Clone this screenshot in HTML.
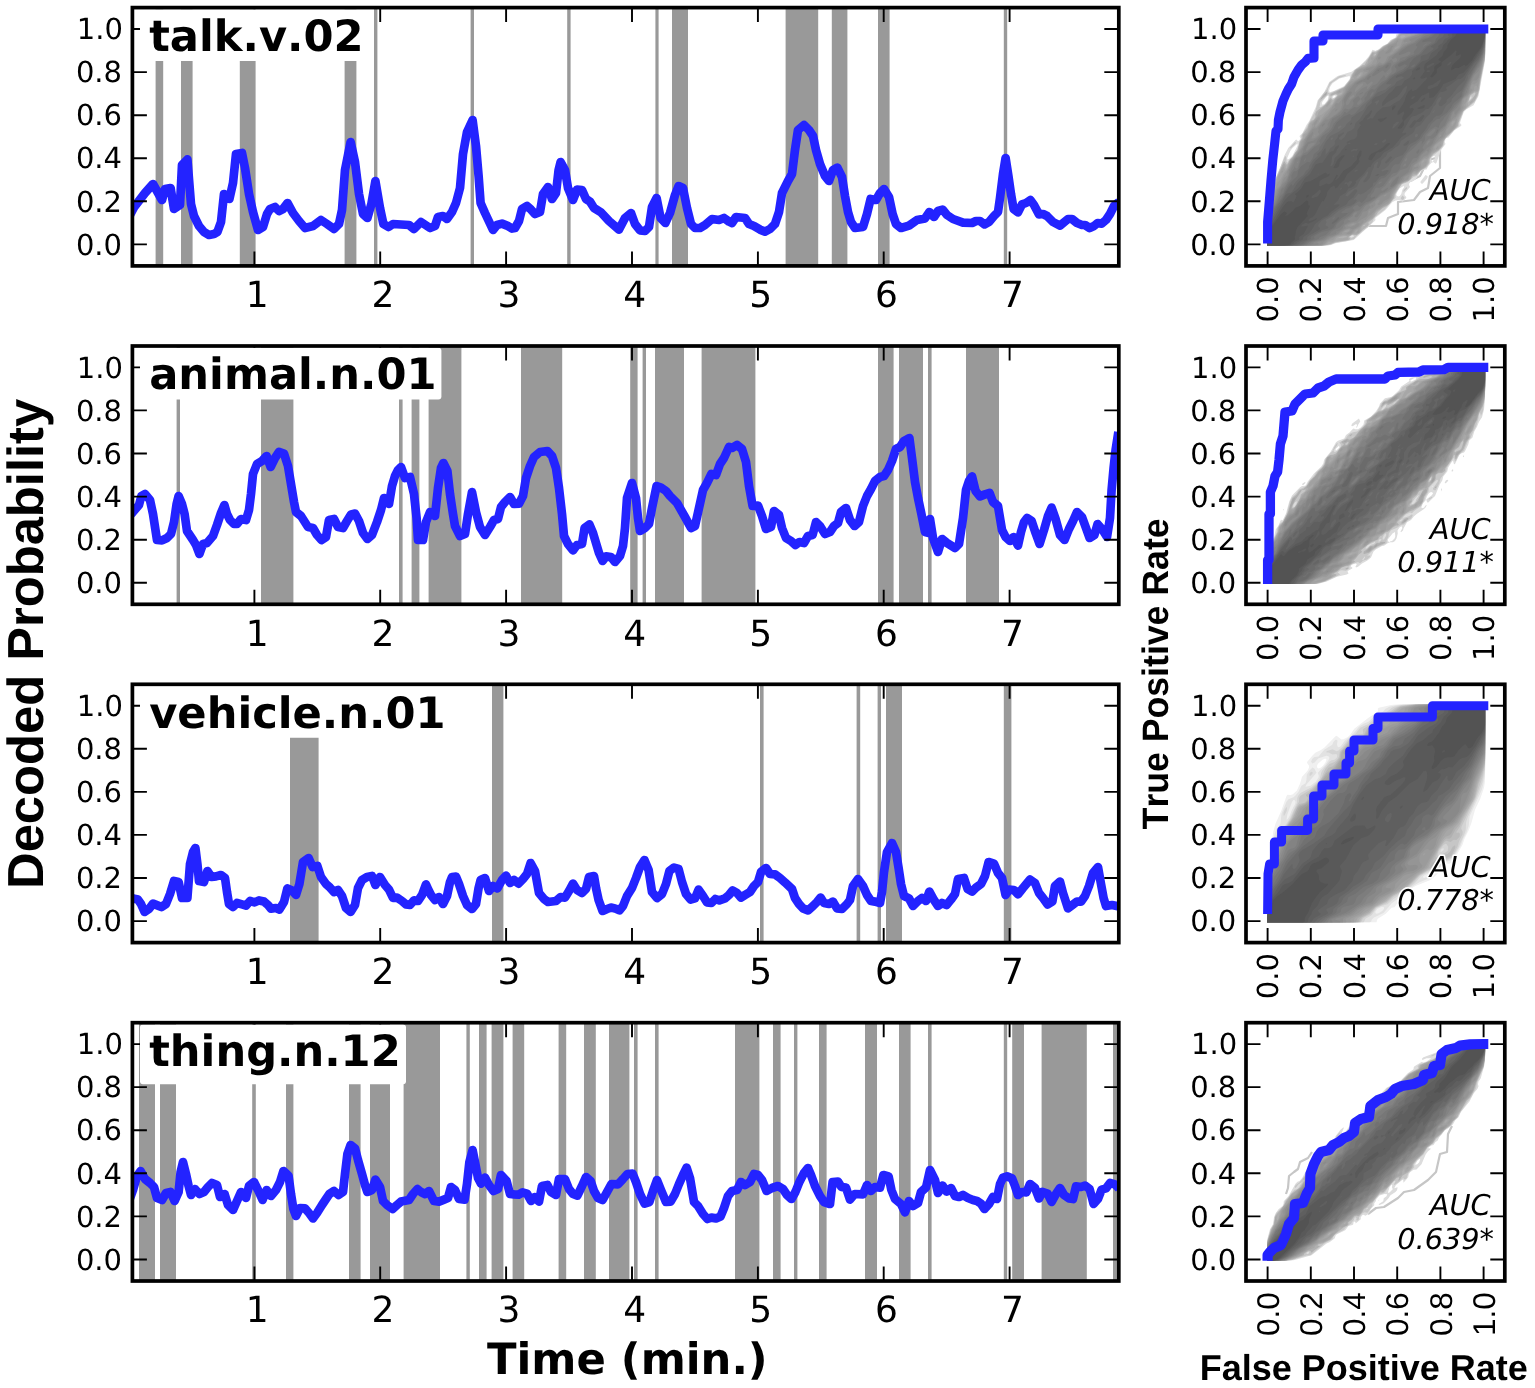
<!DOCTYPE html>
<html lang="en"><head><meta charset="utf-8"><title>Decoded probability and ROC curves</title>
<style>html,body{margin:0;padding:0;background:#fff}body{width:1535px;height:1388px;overflow:hidden}svg{display:block}text{font-kerning:none;font-variant-ligatures:none;text-rendering:geometricPrecision}.t{font-family:"DejaVu Sans","Liberation Sans",sans-serif;fill:#000}.h{font-family:"Liberation Sans","DejaVu Sans",sans-serif;fill:#000}.b{font-weight:bold}.i{font-style:oblique;paint-order:stroke;stroke:#fff;stroke-width:3.2px;stroke-linejoin:round}.sp{fill:none;stroke:#000;stroke-width:3.7;stroke-linejoin:miter}.tk{stroke:#000;stroke-width:1.9;fill:none}.bl{fill:none;stroke:#2323ff;stroke-linejoin:round;stroke-linecap:butt}</style></head><body>
<svg width="1535" height="1388" viewBox="0 0 1535 1388">
<rect width="1535" height="1388" fill="#fff"/>
<defs>
<clipPath id="cl1"><rect x="132.4" y="7.6" width="986.4" height="258.3"/></clipPath>
<clipPath id="cr1"><rect x="1246" y="7.6" width="258.8" height="258.3"/></clipPath>
<clipPath id="cb1"><rect x="1267.1" y="27.8" width="218" height="217.8"/></clipPath>
<clipPath id="cl2"><rect x="132.4" y="346" width="986.4" height="258.3"/></clipPath>
<clipPath id="cr2"><rect x="1246" y="346" width="258.8" height="258.3"/></clipPath>
<clipPath id="cb2"><rect x="1267.1" y="366.2" width="218" height="217.8"/></clipPath>
<clipPath id="cl3"><rect x="132.4" y="684.3" width="986.4" height="258.3"/></clipPath>
<clipPath id="cr3"><rect x="1246" y="684.3" width="258.8" height="258.3"/></clipPath>
<clipPath id="cb3"><rect x="1267.1" y="704.5" width="218" height="217.8"/></clipPath>
<clipPath id="cl4"><rect x="132.4" y="1022.7" width="986.4" height="258.3"/></clipPath>
<clipPath id="cr4"><rect x="1246" y="1022.7" width="258.8" height="258.3"/></clipPath>
<clipPath id="cb4"><rect x="1267.1" y="1042.9" width="218" height="217.8"/></clipPath>
</defs>
<g id="left1">
<g clip-path="url(#cl1)">
<path d="M155.6 7.6v258.3h7.6v-258.3zM181 7.6v258.3h11.6v-258.3zM239.8 7.6v258.3h15.8v-258.3zM344.6 7.6v258.3h11.8v-258.3zM374 7.6v258.3h3.4v-258.3zM470.6 7.6v258.3h3.4v-258.3zM567.2 7.6v258.3h3.4v-258.3zM655.4 7.6v258.3h3.2v-258.3zM672 7.6v258.3h16v-258.3zM785.6 7.6v258.3h32.6v-258.3zM831.8 7.6v258.3h15.6v-258.3zM878 7.6v258.3h11.6v-258.3zM1003.8 7.6v258.3h3.4v-258.3z" fill="#999999"/>
<path class="bl" stroke-width="8.7" d="M129,217 134.2,207 145,193 153,184 162,200 165,189 170.6,188 174,209 180,205 182,165 187.4,159.4 191,204 194,216 199,226 204,232 209,235 214,234 217.4,232 221,222 224,194 229.4,199 233,183 236,154 242,153 245,168 249,194 253,212 258,230 263,227 267,214 270,209 275,207 279,211 283,209 287.6,203 293,213 299,221 305,228 313,226 321,220 327,224 334,229 339,224 342,210 345,170 350.6,142 355,162 359,194 363,214 367.4,218 371.4,204 375.4,181 380,208 383.4,224 388.6,227 393,224 409,225 414,229 421,222 427,226 430,228 435,226 438,217 443,216 447,219 452,212 456,203 460,188 463,154 467,132 472.6,120 476,146 478.6,176 480.6,203 485,213 493,230 497,225 502,223.6 507,225.6 512,228.6 515,228 519,221 522,209 527,206 531,209.6 535,214 540,212 543,194 548,187 552,199 556,193 558.6,170 560.6,162 565,170 568,188 573,200 577,189.6 582,190 586,199 590,201.6 594,208 601,212.4 609,221 619,229.6 625,218 631,213 635,224 640,230.4 645,231 649,227 652,207 656.6,198 660.6,218 665.4,223 670,213 675,195 678.6,186 683,188 687,208 691,224 695,228 700,228 705,225 712,219 719,220 724,218 729,221.6 732,223 736,217 745,218 749,224 754,226 760,229.6 765,231.6 770,229 775,224 779,212 782,193 788,181 792,174 795,150 798,130 804,125 809,130 813,136 816,150 820,164 825,176 829,181 833,170 837.4,167.6 842,177 845,196 848,212 851,222 855,228 863,227 867,214 870.6,199 876,200 880,193 884,189 889,197 892.6,214 896,224 901,228 909,225.6 917,220 925,218.4 929.4,212 934,217 938,211 942.6,209.6 947,215 953,219 963,222.6 972,223 976,221 980,221 984.6,224.4 989,222 994,216 998,212 1000,198 1003,174 1005.6,158 1008.4,176 1011,194 1013.6,209 1018,212.4 1022,204.4 1026,203 1030.4,200 1034,205 1039,214.4 1043,214 1047,216 1053,222 1060,225.6 1068,219 1072,219 1077,223 1082,225 1085,225 1089.6,228 1094,226 1097.6,223 1101.6,223.6 1106,220 1110,214 1114,206 1119,202"/>
</g>
<path class="tk" d="M254.4 265.9v-14.5M254.4 7.6v14.5M380.2 265.9v-14.5M380.2 7.6v14.5M506.1 265.9v-14.5M506.1 7.6v14.5M632 265.9v-14.5M632 7.6v14.5M757.9 265.9v-14.5M757.9 7.6v14.5M883.7 265.9v-14.5M883.7 7.6v14.5M1009.6 265.9v-14.5M1009.6 7.6v14.5M132.4 244.4h14.5M1118.8 244.4h-14.5M132.4 201.3h14.5M1118.8 201.3h-14.5M132.4 158.2h14.5M1118.8 158.2h-14.5M132.4 115.2h14.5M1118.8 115.2h-14.5M132.4 72.1h14.5M1118.8 72.1h-14.5M132.4 29h14.5M1118.8 29h-14.5"/>
<rect x="140" y="9.3" width="226" height="51.7" rx="3" fill="#fff"/>
<text class="t b" x="149.2" y="51" font-size="43.2">talk.v.02</text>
<rect class="sp" x="132.4" y="7.6" width="986.4" height="258.3"/>
<text class="t" x="122" y="254.6" font-size="29" text-anchor="end">0.0</text>
<text class="t" x="122" y="211.5" font-size="29" text-anchor="end">0.2</text>
<text class="t" x="122" y="168.4" font-size="29" text-anchor="end">0.4</text>
<text class="t" x="122" y="125.4" font-size="29" text-anchor="end">0.6</text>
<text class="t" x="122" y="82.3" font-size="29" text-anchor="end">0.8</text>
<text class="t" x="122.9" y="39.2" font-size="29" text-anchor="end">1.0</text>
<text class="t" x="257.2" y="307.2" font-size="36" text-anchor="middle">1</text>
<text class="t" x="383" y="307.2" font-size="36" text-anchor="middle">2</text>
<text class="t" x="508.9" y="307.2" font-size="36" text-anchor="middle">3</text>
<text class="t" x="634.8" y="307.2" font-size="36" text-anchor="middle">4</text>
<text class="t" x="760.6" y="307.2" font-size="36" text-anchor="middle">5</text>
<text class="t" x="886.5" y="307.2" font-size="36" text-anchor="middle">6</text>
<text class="t" x="1012.4" y="307.2" font-size="36" text-anchor="middle">7</text>
</g>
<g id="right1">
<g clip-path="url(#cr1)">
<path d="M1356,232 1368,226 1386,226 1388,218 1398,214 1398,202 1414,200 1420,192 1428,188 1430,176 1440,168 1440,148 1434,143" fill="none" stroke="#c6c6c6" stroke-width="2.2" stroke-linejoin="round"/>
<path d="M1400,186 1420,176 1428,160 1436,158 1440,148" fill="none" stroke="#c6c6c6" stroke-width="2.2" stroke-linejoin="round"/>
<g clip-path="url(#cb1)"><g transform="translate(1246.0 7.60) scale(.25)" fill-rule="evenodd"><path fill="#dedede" d="M126 966l-44 1-8-5-6-12 18-173 15-39 9-36 26-60 18-51 15-29 29-32 4-2 4 5 4 1 8-8-4-12 12-12 16-32 11-16 26-56 7-26 27-34 20-40 33-24 56-17 32-23 24-23 14-17 14-25 12 4 12-5 16-14 20-10 12-14 20-10 4-14 44-14 20-11 84-8 196-7 16 4 6 8 2 8-8 96-32 172-20 37-28 16-11 11-14 40-1 4 6 8-2 4-26 17-24 29-8 2-4 5-3 11 3 8-18 24-18 51-4 4-8-7-8 3-12 13-8 14-12 1-14 9-14 25-7 7-13 8-8 0-2 12 4 8-21 24-1 8 7 8 0 4-15 15-12-7-16 2-12 6-28 32-41 32 1 8-3 4-84 76-73 13-20 8-36 7zM351 334l42-20 22-28 1-8-2-4-40 10-28 19-10 15-4 16 2 3 4 1zM314 386l13-16 3-16-4-1-6 5-15 20-1 8 2 3zM356 358l3-4-5-2-8 6 4 4zM172 606l13-12 21-41 0-9-20 18-9 12-12 28 1 6zM748 614l8-12-2-9-8 3-6 10 6 12zM706 705l-4 0-5-7 21-28 8 4 1 4-4 8zM615 754l6-8 4-16 8-12-3-4-16 10-11 18-2 8 3 4 6 2zM427 914l-5 0 0 2z"/><path fill="#c6c6c6" d="M110 966l-28 0-11-8-3-12 10-96 10-68 30-96 36-87 4-5 3 4 1 20 4 3 6-11 14-13 17-27 8-20 1-12 9-12-1-12 23-36 34-64 13-44 34-44 10-25 39-27 29-5-6 5-26 9-24 16-7 7-11 20-1 8 3 8 4 1 56-24 24-29 4-8 2-12 14-20 24-16 20-19 14-17 14-23 12 0 16-8 15-13 17-8 16-16 17-8 11-17 36-12 22-11 78-8 200-7 12 2 7 5 5 12-9 96-21 104-6 42-8 29-12 22-43 35-19 48 1 12-19 15-20 22-16 13-6 10-1 16-17 22-32 26-5 8-1 16-14 19-24 13-16 20-12 4-24 21-21 7-18 24-8 16-1 16-8 6-37 42-35 27-7 9-5 12-19 20-44 36-10 12-28 8-47 7-20 8-40 9zM300 398l14-9 13-15 7-16-4-12-32 32-4 20zM355 362l8-8-1-5-12 1-8 8 4 7zM895 370l7-8 0-7-4 2-4 9zM178 564l-2-2 2-4 16-18 6-2-2 7zM630 738l0-8 12-12 3 4-2 4zM630 768l-4 2-6-4-1-4 7-10 8 8zM430 918l3-4-7-4-9 4-2 4 7 3z"/><path fill="#b0b0b0" d="M98 966l-12 0-8-3-8-9-1-8 9-92 12-72 24-69 8-32 28-62 4-4 6 11 2 2 4-1 9-17 12-12 9-16 10-12 9-32 10-16 0-12 21-28 5-16 7-10 4-4 8-2 4-5 4-7-1-12 5-11 36-27 20-26 8 7 4 0 12-11 5-8-9-4-20 8 0-8 56-28 22-28 8-20 12-20 30-19 8-1 32-52 12 2 12-8 20-16 18-10 18-16 15-8 13-17 28-9 28-13 60-7 216-8 12 1 6 5 5 12-10 100-22 108-4 32-7 24-12 24-45 40-20 48-1 12-50 48-7 12-5 20-16 18-20 13-11 13-6 12-1 12-11 16-23 14-16 18-16 4-7 12-9 8-28 12-26 40-4 16-18 23-12 10-15 7-19 16-7 12-15 17-15 11-2 4 3 4-5 8-21 16-12 13-12 8-16-3-11 6-3 4 5 8-6 4-53 9-18 7-42 10zM518 190l0-6-5 6 1 2zM298 370l0-4 11-16 13-13 3 5-3 8zM890 378l14-12 12-16 2-8-4-2-16 11-6 15zM471 874l6-4-5 0-3 4z"/><path fill="#a7a7a7" d="M94 966l-16-3-5-5-4-8 14-120 20-80 12-32 9-36 22-50 4-6 4 0 5 8-1 8 4 1 15-33 12-12 9-16 10-12 9-32 12-16 0-12 15-12 13-36 17-13 13-19 3-12 32-32 12-16 4-2 5 6-5 12 0 6 8-6 10-20 14-14 12-6 2-4-2-2-12 5-8-3 0-4 12-8 16-7 13-13 18-24 5-16 13-20 23-12 12-2 4-3 10-11 1-12 17-28 5 0-3 8 2 5 4 1 4-2 7-16 25-20 54-36 15-16 19-6 29-14 63-9 68-3 152-6 8 2 6 4 5 12-10 96-23 108-6 41-4 7-12-2-18 14-10 29 2 11-2 4-21 24-10 20-11 36-48 48-8 12-3 16-12 16-27 19-15 21-3 16-10 15-20 13-16 16-12 0-4 3-10 17-6 6-20 7-16 11-23 40-2 12-14 20-9 8-16 7-24 17-8 8-4 12-8 9-38 27-6 8-1 12-8 12-11 5-16 0-20 11-5-4-7-1-21 5-5 4 18 1 20-5 4 8-5 4-47 6-14 6-46 14zM623 122l11-4 4-4-8-4-8 1-5 3 0 4zM450 278l8-9-4 1zM318 350l-5 0 5-6 2 2zM898 384l-4-2 12-12 2 4z"/><path fill="#a1a1a1" d="M166 962l-80 4-12-7-4-9 15-124 7-24 6-12 8-44 11-24 13-48 12-27 8-12 6 15 6-2 4-6 14-32 12-12 20-32 10-32 13-12 4-12 9-12 9-20 2-12 31-32 12-5 36-30 13-17 8-16 11-10 12-6 8-12-3-8 35-41 4-3 6 0-4-12 14-24 36-14 24-22 1-4-4-4 3-8 8 3 4-1 8-8 6-14 4-4 74-51 4-2 12 4 4-1 35-14-3-3-20-1 2-4 26-13 32-7 48-5 200-9 8 1 8 4 6 13-10 96-24 112-5 32-3 6-12 1-20 16-14 37 0 12-15 16-14 24-12 40-25 26-12 8-25 30 3 8-10 16-27 16-15 24-6 20-4 7-36 29-8-2-8 4-16 26-24 10-15 10-23 40-3 12-13 20-26 15-24 17-7 8-9 17-41 31-10 16-3 12-4 4-7 0 7-12-6-1-6 5-3 8-19 9-8 2-16-1-24 5-6 5-3 8-4 4-7 4-16 0-8 8-20 8zM671 106l12-8-6 0-13 8zM449 282l10-8 3-11-4-1-15 16-1 4zM374 339l-4-1 4-4 6 0zM326 396l-4 1-3-3 15-19 3 3-3 8zM826 466l4-4 0-5-5 5zM706 622l6-8-2-4-6 8z"/><path fill="#9b9b9b" d="M158 962l-72 3-12-6-4-9 16-124 14-36 10-45 10-23 6-21 12-13 14-26 14-16 17-36 11-12 18-28 8-16 3-16 14-16 15-24 11-20 2-12 3-4 22-23 4 0 2 3-6 20 4-4 24-36 24-24 20-31 24-18 8-11 1-12 23-29 32-13 15-14 3-8-3-4-7-1-12 13-10 4-2-4 12-18 12-6 12-2 32-18 12-20 10-12 7-16 11-9 32-21 16-7 16-15 4-1 12 4 66-27 6-4-4-5-9-3 9-4 60-9 196-8 8 0 8 4 6 13-11 96-31 140-2-8-6-2-5 6-1 12-21 20-6 12-3 13-10 15 3 8-16 20-14 24-3 16-8 20-20 23-12 8-16 19-28 22-6 8 2 7 3 1-15 13-12 19-8 8-8-1-9 5-7 12 4 16-2 4-14 14-4 1-8-2-8 5-19 30-17 6-20 13-23 37-5 16-12 18-48 30-18 24-21 20-17 12-14 16-17 8-8 12-6 4-11 4-16-2-28 6-8 4-10 12-18 4-13 12-19 7zM666 98l-8 2-2-2 7-4 7 0zM599 166l13-8-2-5-14 9-1 4zM826 474l10-16 1-4-3-2-8 3-5 7 1 12zM762 567l-4-1 8-10 4-1-2 7zM718 623l-4-1 4-6zM142 662l0-6 4-5 2 7zM404 898l8-4 1-4-15 2-6 6z"/><path fill="#959595" d="M146 962l-60 3-8-3-6-8-2-8 16-116 16-40 18-60 14-16 12-32 25-40 15-32 40-57 4-19 32-48 11-12-3-8 8-12 4-4 5 0-4 12-9 12 4 4 4-1 32-39 13-12 39-58 16-9 4-5 12-16 3-12 5-8 30-24 18-10 29-22 1-4-10-1-6-7 18-12 12-3 12-7 8 0 4-4 3-10-5-8 14-28 12-8 4-1 4 4 8-2 5-5 0-8 3-4 27-12 9-11 3 3-6 8 0 8-15 16 1 8-13 12 6-1 9-11 22-12 5-8 9-24 11-7 28-8 40-17-1-4-7-4 4-4 51-8 193-9 8 1 8 4 5 8 0 8-11 92-22 95-8 21-12 9-4 1-4-2-4 4-4 12 7 8-19 25-15 11 0 12-6 12 2 12-2 4-27 38-12 8-9 10-4 12-11 15-2 17-10 14-36 30-5 8-3 12-20 26-16 7-15 15-5 8 6 12-5 8-5 4-16 4-15 16-8 16-37 21-27 39-5 16-4 6-52 37-20 22-12 8-12 16-8-1 1 4-1 4-16 18-24 14-8 12-6 4-13 0 0-4 14-8 1-5-8-3-12 4-12 8-3 8-21 7-36 19-14 14-10 5zM495 822l2-8-3 0-2 4zM430 870l5-4-5-2-14 6 6 2z"/><path fill="#8f8f8f" d="M134 962l-48 2-11-6-4-12 17-116 17-40 20-60 13-15 14-33 14-11-1-13 24-48 40-56 8-24 26-40 7-6 12-1 32-38 16-12 12-20 16-15-4-4 4-8 4-4 8 2 4-4 31-46 6-12 27-26 40-24 8-7 6-11-2-4-9 0 0-4 25-10 12-1 16-16 12 6 6-3 7-8 6-16 21-11 28-23 16-18 14-4 2-5-12 3-3-2-1-4 2-4 82-32 2-4-4-4 2-4 13-4 23-3 196-9 8 0 8 4 4 8 1 8-12 92-25 98-8 11-12 1-8 10-6 16-2 20-8 12-15 12-5 8-5 20-1 16-22 31-8 5-21 24-23 52-12 7-26 29-6 8-4 12-12 16-16 7-20 22-16 11-2 4 2 5 12-3 3 2-2 4-13 4-24 23-16 9-3 12-25 18-27 34-5 17-4 6-18 9-11 12-11 5-5-5 8-8 2-8-1-2-9 2-9 8 2 12-12 12-12 5-6 7-2 16-4 6-28 17-8 9-16-2-23 10 0 4 11 4 16-6 7-6 1-3 12 0 1 3-5 8-11 8-13 5-12-5-20 7-14 9-8 8-34 15-28 17-4 8-8 4zM570 183l-12 2-1-3 17-16 7-12 9-1 1 1-8 8-2 12zM534 208l-4-1-2-5 6-6 4 2 1 4zM276 514l2-5-4-1-2 6 2 2zM777 518l5-8-4-1-4 3-2 6 2 3zM559 754l4-4-1-3-8 3-5 4 5 2z"/><path fill="#898989" d="M122 962l-40 1-8-7-3-10 13-92 6-27 41-97 15-25 12-11 12-24 3-20 21-44 8-8 12-5 4-5 0-10 18-32 10-24 20-25 4 5-9 20 1 3 12-2 16-12 3-5-5-8 3-8-1-8 16-23 12-10 12-1 31-22 13-12 5-8 6-16-1-16 10-21 44-53 36-20 56-51 16 0 8-4 11-11 8-16 25-16 33-28 29-16-1-4-6-4 3-4 30-10 35-18 2-4-2-4 2-4 27-5 196-11 8 1 8 4 4 7 0 8-9 68-3 24-13 48-11 24-16 16-12 23-14 49-23 24-10 28 0 12-17 22-5-2 1-11-5 3-9 20-2 12-12 14-16 28-12 7-8 10-17 33-17 20-6 16-4 1 0-5-4-2-20 18-13 24-23 20-1 12-8 12-29 20-5 12-49 47-32 15-46 34-3 4 5 8-16 16-12 2-4 3-5 11-18 24-21 5-24 11-3 4 5 8-21 12-13 12-16 8-18 4-18 14-28 6-1 4 8 4-9 4zM438 338l27-24 4-8-3-3-16 7-11 12-5 16zM419 366l12-8 2-4-3-6-14 10-4 8 2 3zM358 415l-2-1 2-4 8-6-1 6zM506 795l-6-1 6-4z"/><path fill="#838383" d="M110 962l-28 0-6-4-4-8 14-101 7-23 37-80 6-16 27-36 19-52 11-20 2-12 7-8 12-3 4-4 11-17 1-12 4-9 12-18 24-7 16-11 40-43 2-4-2-8 17-24 25-16 15-16 11-24-3-12 1-8 14-23 12-7 5 2 0 4-15 20-10 20 4 10 8-4 11-18 15-12 7-16 23-19 16-8 4 1-3 10 3 1 21-25 0-4-5-2-16 12-10-10-10-2-24 13 1-7 11-8 20-8 16-17 16-10 24-24 20-4 32-24 8 13 9-2 6-8-3-8-4-1-12 6-3-5 1-4 42-35 20-13 27-12 9-9 18-11 12-12 10-4 29-4-1-3-20-5 2-4 19-4 52-4 143-8 8 1 8 5 4 6 0 8-13 88-7 29-11 27-26 36-11 24-16 48-19 24-7 16-13 20-19 16-13 32-13 23-20 19-27 38-6 16-11 10-8 4-26 26-18 28-20 13-13 31-28 20-12 20-19 20-28 20-24 12-24 21-37 23-31 44-8 1-4-5 11-12-3-3-10 3-3 4-2 8-18 12-1 4 10 4-26 16-7 16-19 10-9-2 6 4-5 8-32 10-16 13-37 9-5 4 3 4-15 4-38 5zM568 266l3-4-1-2-4 2-1 4zM306 476l-3-2 3-6 8-6 2 4zM725 550l9-12 2-4-2-2-6 2-5 8-1 8zM248 570l23-20 3-4 0-5-8 0-16 5-11 24 3 3zM207 622l3-5-4-1-2 6zM575 702l11-16-12 8-3 8z"/><path fill="#7d7d7d" d="M102 962l-20 0-8-7-2-9 15-92 19-52 13-20 19-40 4-16 12-8 14-24 5-16 9-21 11-15 1-8 3 8 5 2 4-2 8-24 1-12 7-12 8-10 16-7 34-31 4-12 10-14 24-26 16-14 4-18 8-17 32-17 16-22 4-2 12 4 11-6 8-12 2-8-4-8 5-8 14-10 4-1 8 11 4-4 11-12 3-8 14-11 16-18 17-7 27-34 4 0 4 10 4-2 21-22-2-12 2-8 7-8 22-16 6-12 28-8 11-8 1-4-1-4-7-2-16 8-20 6-4-4 8-10 30-22 30-13 12-11 28-18 43-14 4-4-16-4-4-4 61-7 140-8 8 1 8 5 4 13-12 76-12 44-12 24-24 36-31 68-3 12-21 32-34 40-23 50-16 13-16 26-12 11-4 3-12-1-12 10-16 25 0 5 5 2-1 4-12 12-12 17-4 2-12 2-3 3-23 36-26 8-16 19-24 14-21 31-16 12 1 7 4 1 20-13 2 1-1 4-7 8-6 4-16 5-17 19-47 28-20 21-16 4-8 5-12 14-24 16-3 4 1 8-18 19-23 9-11 8-5 8-32 20-40 12-9 8-10 4-26 4zM510 275l-4-1-2-4 22-25 20-7 24-17 10 1 1 8-5 12-18 18-4 0-3-6-5-2zM490 289l-4 0-3-3 3-6 8-7 7 1zM458 347l-4 1-1-2 14-8 1 4zM450 390l8-5 5-7-1-8-4-4-14 16 2 8zM354 454l3-4-4 0zM739 514l15-16 4-8 0-5-4 0-8 4-22 21 2 5zM640 614l6-8-4-4-7 8 0 4 3 2zM637 634l4-4-1-4-2-2-4 0-6 10 2 3zM582 718l-4 0-1-4 9-16 16-18 8-5 2 3-10 24-12 12z"/><path fill="#777777" d="M98 962l-12 0-8-3-4-5-1-8 16-96 21-50 11-14 16-32 13-13 4-15 12-21 16-19-1-12 8-16 5-3 8 0 8-11 13-46 7-7 12-2 4-3 27-28 21-12 2-4-3-8 10-16 7-7 21-13 15-20 4-12 22-24 15-12 7-12 4 0 4 5 28-23 4-2 12 2 12-9 17-17-1-12 8-7 7-17 9-9 8-3 4 3 4 0 29-31 19-10 16-18 12-5 9-7 4-12-8-8 4-8 19-14 15-6 14-12 26-12-2-8 15-20-7-8 15-16 12-9 24-7 15-12 24-8 5-4-4-4 1-4 31-5 144-10 8 1 8 5 3 13-17 96-9 24-36 60-33 68-4 16-18 24-14 13-9 15-31 32-6 12-9 8-9 23-12-5-22 14-19 20-1 20-10 14-4 4 2-14-6 0-36 36-16 13-28 47-1 12-7 10-8 8-12 2-8 6-32 44-16 9-12-1-7 6-4 12-11 12-3 8 5 3 12-4 3 1-3 4-20 12-16 5-20 18-4 1-8-9-12 5-8 8 8 8-24 24-28 16-19 16-6 16-23 13-15 15-23 8-6 8-37 12-9 8-10 4-26 4zM708 158l16-12-2-3-10 7-6 8zM562 243l-5-1 1-6 6-6 6-1 0 5zM530 254l-5 0 5-5 4 0zM503 354l8-12-1-6-8 7-6 11 2 4zM762 503l-3-1 7-14 4 2zM686 586l-4-4 0-4 8-10 4 0-2 10zM236 614l4-8-2-4-8 12 4 2zM534 706l11-8-3-2-8 2-5 8z"/><path fill="#717171" d="M90 962l-12-4-5-12 17-90 21-50 31-44 30-56 33-32 4-20 9-17 28-20 8 3 4-4 9-14 5-16 20-16 3-12 23-32 5-12 23-23 16-30 28-24 24-11 8 5 12-5 29-32 45-40 12-16 5-12 9-10 32-26 14-16 34-21 12-4 17-15-1-5-8-2-20 10-6-3 3-8 7-5 20-7 15-12 39-16 26-29 23-15 1-4-12-3-24 4-1-5 4-4 33-12 13-12 23-8 4-4-1-4 2-4 11-3 152-11 8 1 8 5 2 12-11 68-7 27-11 25-23 36-27 52-22 44 0 8-4 8-32 28-8 16-17 20-23 16-5 7-12 2-21 19-9 16-23 28-6 12-25 23-19 13-7 12-15 16-23 37-4 4-12 0-8 5-8 10-2 12-6 9-20 18-12 3-12 9-27 37-5 11-12 9-1 8-19 21-4 3-8-7-4 1-32 23-19 7-17 12-1 4 5 1 22-1-7 8-19 12-24 24-9 16-19 9-28 7-28 16-2 4 2 8-30 12-9 8-11 4-28 4zM377 482l6-8-5-2-8 4-4 6 4 4zM414 818l-4 2-1-2zM351 846l5-8-2-2-9 10 1 2z"/><path fill="#6b6b6b" d="M134 958l-48 3-8-4-4-7 12-68 9-32 26-52 24-32 25-46 12-14 4 8 4-3 5-9 19-20 16-12 8-14 15-14 0-8 17-25 17-15-2-8 18-16 15-31 20-25 32-16 26-20 6-12 19-16 0-8 4-4 25-17 20-11 13-24 43-46 32-12 22-18 1-4-15 1-4-1 0-4 16-17 18-15 30-14 25-18 5-16 16-20 28-16 24-28 29-16 5-8 1-8 12-12 1-8 14-6 12-2 2-4-8-4 2-4 64-8 88-6 8 1 7 5 3 12-13 68-8 28-12 24-33 52-8 8-4 16-22 44-22 16-19 20-1 8-3 4-20 16-16 32-9 6-12 1-11 9-5 8-16 16-8 17-22 27-5 12-17 13-20 10-10 9-6 16-16 20-28 11-22 21-8 12-14 11-12 5 0 4 4 2 12-5 11-1 1 4-9 12-7 6-12 1-8 5-16 20-9 4-3 13-34 27-14 6-8-3-21 25 9-2 5 2-4 8-8 8-13 7-16 3-32 17-28 24-24 13 4 8-5 12 12 8 1 4-28 10-39 22-5 4 1 8-24 12-10 8-23 6zM670 238l7-8-3-3-14 7 2 5zM749 422l6-8-1-4-7 8-1 5zM684 518l5-8-3-5-4-1-4 3-3 7 3 6zM343 530l4-4 1-4-2-3-6 3-2 4 2 4zM346 866l-3-4 27-24 3 4-9 12z"/><path fill="#656565" d="M122 958l-36 3-8-5-4-6 16-76 10-24 21-36 5-13 13-15 19-36 8-6 12-2 6-4 22-36 41-40 15-20 4-12 11-16 22-20 6-16 13-17 0 30 12-14 8-15 12-8 6-8-1-12 11-12 3-12 21-11 3 3-22 20 3 7 8 0 12-10 12-21 16-7 11-9 5-20 18-16 30-49 18-15-1-8 5-8 10-8 16-5 24-14 18-17 18-11 8-14 30-15-3-4-7-3-8 1-12 5-4-3 8-8 20-6 20-15 20-4 10-7 23-28 0-12 3-4 8-4 12-2 24-18 4-4 0-4-11-4 3-4 19-12 11-16 15-8 6-12 23-8 3-4-7-4 0-4 42-6 92-7 8 1 6 4 3 12-9 50-4 18-12 31-12 21-12 12-16 24-17 28-7 18-27 26-27 36-18 16 0 8-4 4-16 13-8-1-4-8 1-4 12-20-5-5-8 5-8 12-2 12-11 12-15 29-15 15-21 28-20 10-5 14-7 9-47 31-6 16-15 9-16 14-16 9-5 12-19 16-3 16-9 16-6 0-1-4 6-20-3-2-8 6-6 8 0 8-8 16-9 28-13 14-8 3-4-1 0-4 14-20 5-16-3-3-3 3-8 12-17 16-13 28-7 7-28 15-12 14 1 4 7 2 28-28 8 0 3 6-15 24-21 16-6 12-5 4-20 10-32 22-12 12-32 18-13 18 1 7 6 5 0 4-5 4-42 24-4 4 0 8-3 4-23 8-6 8-40 8zM523 390l10-16-3-4-16 8 7 8 1 7zM422 468l-4 1-3-3 7-5 3 1zM642 551l-8 2-6-3 18-16 8-2-3 10zM562 623l-5-1 0-4 21-23 7 3-12 16zM526 674l-10 0 10-8 7 0z"/><path fill="#5f5f5f" d="M114 958l-28 2-8-4-3-6 11-56 8-23 60-99 17-18 43-35 22-37 14-10 9-10 19-34 16-6 12-1 28-40 4-4 12-3 8-16 13-8 0 8-9 12-1 8-16 16-4 28-4 12 5 0 8-8 5-24 22-20 4-8 17-20 8-7 11-1 2-4-5-2-8 5-3-3 0-4 19-9 12-2 9-9 2-8 1-20 14-20-8-8 16-12 10-16 12-9 8-11 4-3 3 3-10 20-12 12 3 3 12-6 8 2 16-24 24-21 28-4 24-16 16-8 12-14 13-20 6-20-1-4-6 2-11 10-3 8-18 22-44 25-12 11-4 2-2-4 1-8 4-8 22-28 15-12 12-16 8-4 16-2 11-18 21-13 11-15-1-12 34-33 8-6 16-4 8-5 11-24 29-20-2-8 18-12 8-15 17-9 0-4-4-4 2-4 17-8 4-4-2-4 3-4 19-4 96-8 8 0 6 4 3 12-17 72-12 24-64 91-12 9-12 1-32 25-12 6-3 4 5 8-2 1-16 7-8-1-4 4-32 52-12 12-12 2-12 12-28 14-12 2-8 7-34 60 2 2 12-3 3 1-1 4-18 12-33 40-39 23-12 17-24 16-13 16-3 8-8 0-20 28-28 26-6 2 4 4-1 4-8 12-9 6-12 3-12 18-22 13-7 16-16 16 0 4 17-3 4 3-3 4-33 25-12 13-16 8-34 26-8 16-15 20-24 16-1 8-4 4-17 8-7 8-12 4zM666 480l-8 1-5-3 1-4 16-20 4-4 8 3 24-22 4-1 4 4-12 19-8 5-12 0zM592 482l19-20 1-4-2-2-8 2-12 10-5 14 1 3zM556 538l6-8-4-4-13 8-2 4 7 3zM522 550l4-4 0-5-8 2-8 7zM442 574l6-8-2-2-8 2-8-1-12 9 4 3 12-5zM430 598l3-4-3-2-5 6zM435 658l10-4 3-4-2-2-8 2-4 4zM287 670l5-4-2-2-4 4zM414 714l12-16-4-4-8 1-8 6-4-3-4 1-4 3 0 7 8-5 8 14zM382 726l3-4-3-2-7 6 3 3zM324 802l2-4-6 4z"/><path fill="#595959" d="M622 483l-12 2-4-3 22-28-3-12 9-20-4-7-20 14-4-1 1-10 26-40 9-28 8-13 12-11 4 9 16-6 41-43 1-4-2-3-16 6-10-3 20-28-5-12 5-16 46-35 8-13 14-12 5-16 14-12 4-8 17-12 3-4-4-8 12-8 7-12 19-4 85-8 12 3 4 5 0 8-18 68-32 52-22 29-20 22-16 5-4 3-12 17-48 20-15 24-25 29-17 3 0-20-3-3-12 8-16 6-16 22-28 17-5 6 2 4 3 2 8-3 5 5-1 4-10 16-29 28 1 16zM814 230l7-8 1-5-8 2-10 11 2 3zM729 242l20-12 4-4 0-4-7 0-23 12 0 8 3 2zM690 250l-8 2-4-2 8-8 8-3 3 3-1 4zM733 258l4-4-3-3-8 0-5 3 2 4zM674 287l-8-1 8-7 3 3zM737 326l29-12 13-20-1-7-32 22-16 4-4 5 0 5 4 4zM668 366l8-8-1-4-9 2-6 6 2 5zM706 375l-4 3-3-4 15-14 3 2-1 4zM586 412l-2-6 1-8 5-5 8-1-1 6zM694 406l-6 0-2-4 24-11 4 0 2 3-6 9zM538 459l-11-9 3-5 20-1 12-6 1 4-17 13zM502 611l-8-1-5-4 5-12 8-9 20-9 24-15 16-15 8-4 6 0-2 6-23 22-13 8-12 1-4 3zM398 571l0-5 6 0zM106 958l-20 1-8-4-2-5 10-49 8-21 17-22 36-60 15-18 8-4 12-1 8 5 13-26-8-8 11-7 17-17 11-20 8-4 16-3 60-35 8 8 8-3 1 5-5 5-24 11-12 8-2 20 6 1 24-11 8 3 8-2 11-11 13-25 4 1 1 4-8 12-3 4 2 1 13-9 9-16 10-13 32-19 9-12 12-12 2-4-2-8 11-23 4-3 4 2-1 16-10 16 3 8-1 4-19 24-29 24-13 24-17 16-9 13-8 4-4-9-4-1-12 7-13 18-2 12-13 26-4-2-4 4-27 52-9 9-8 3-9 8 5 5 20-7 8-6 1 4-11 8-22 10-12-3-15 9-2 4 1 3 24-4 0 5-16 28-18 12 1 8-3 4-17 8-5 8-10 4zM358 643l-8-1 16-33 16-15 11-4 0 4-18 24-3 16-6 6zM268 762l18-6 4-4 10-14-2-9-4-1-16 16-12 8-4 6 0 4z"/><path fill="#535353" d="M746 279l-8-1 0-4 16-24-1-12 9-9 18-11-2-4-8-4 1-4 15-12 5-16 15-16 0-12 13-20 19-16 2-8 10-8 2-4-2-5 3-3 22-4 71-7 12 3 4 12-16 56-8 16-27 36-6 12-19 20-8 5-2-5-6 0-20 12-12-1-16 10-1-9 5-12 30-28 4-8-2-8-16 8-3-4 4-16-5-2-18 18-37 28-1 13-19 15 0 16zM246 758l-4 3-1-7 9-5 0 5zM98 958l-15 0-6-8 12-52 5-10 46-62 14-10 10 6-8 12 10-2 21-18 11-13 20-8 24-21 4 2 3 4 0 12 7 4-13 28 0 4 4 8-41 44-7 16-1 16-4 8 2 8-2 4-11 8-5 8-9 4z"/></g></g>
<path class="bl" stroke-width="9.1" d="M1267.6,243.6 1267.6,222 1268.6,210 1269.4,200 1271,180 1272.8,160 1274.6,144 1276,131 1278,129 1278.4,120 1280,112 1283,101 1286,94 1288.4,89 1291.6,84 1294,77 1298,70 1301.6,65 1305.6,61.6 1308,58.4 1314,58 1314,41 1323,41 1323,35 1378,35 1378,29 1483.6,29 h4.7"/>
</g>
<path class="tk" d="M1267.6 265.9v-14.5M1267.6 7.6v14.5M1246 244.4h14.5M1504.8 244.4h-14.5M1310.8 265.9v-14.5M1310.8 7.6v14.5M1246 201.3h14.5M1504.8 201.3h-14.5M1354 265.9v-14.5M1354 7.6v14.5M1246 158.2h14.5M1504.8 158.2h-14.5M1397.2 265.9v-14.5M1397.2 7.6v14.5M1246 115.2h14.5M1504.8 115.2h-14.5M1440.4 265.9v-14.5M1440.4 7.6v14.5M1246 72.1h14.5M1504.8 72.1h-14.5M1483.6 265.9v-14.5M1483.6 7.6v14.5M1246 29h14.5M1504.8 29h-14.5"/>
<text class="t i" x="1490.6" y="200.1" font-size="28.8" text-anchor="end">AUC</text>
<text class="t i" x="1494" y="233.6" font-size="28.8" text-anchor="end">0.918*</text>
<rect class="sp" x="1246" y="7.6" width="258.8" height="258.3"/>
<text class="t" x="1236.3" y="254.6" font-size="29" text-anchor="end">0.0</text>
<text class="t" transform="translate(1267.6 276.4) rotate(-90)" x="0" y="10.6" font-size="29" text-anchor="end">0.0</text>
<text class="t" x="1236.3" y="211.5" font-size="29" text-anchor="end">0.2</text>
<text class="t" transform="translate(1310.8 276.4) rotate(-90)" x="0" y="10.6" font-size="29" text-anchor="end">0.2</text>
<text class="t" x="1236.3" y="168.4" font-size="29" text-anchor="end">0.4</text>
<text class="t" transform="translate(1354 276.4) rotate(-90)" x="0" y="10.6" font-size="29" text-anchor="end">0.4</text>
<text class="t" x="1236.3" y="125.4" font-size="29" text-anchor="end">0.6</text>
<text class="t" transform="translate(1397.2 276.4) rotate(-90)" x="0" y="10.6" font-size="29" text-anchor="end">0.6</text>
<text class="t" x="1236.3" y="82.3" font-size="29" text-anchor="end">0.8</text>
<text class="t" transform="translate(1440.4 276.4) rotate(-90)" x="0" y="10.6" font-size="29" text-anchor="end">0.8</text>
<text class="t" x="1237.2" y="39.2" font-size="29" text-anchor="end">1.0</text>
<text class="t" transform="translate(1483.6 276.4) rotate(-90)" x="0" y="10.6" font-size="29" text-anchor="end">1.0</text>
</g>
<g id="left2">
<g clip-path="url(#cl2)">
<path d="M176.6 346v258.3h3.4v-258.3zM261 346v258.3h32.4v-258.3zM399 346v258.3h3.6v-258.3zM411.6 346v258.3h7.8v-258.3zM428.6 346v258.3h32.8v-258.3zM521 346v258.3h41.2v-258.3zM630.2 346v258.3h7.4v-258.3zM642.6 346v258.3h3.4v-258.3zM655 346v258.3h29v-258.3zM701.6 346v258.3h53.8v-258.3zM878 346v258.3h15.6v-258.3zM899 346v258.3h24v-258.3zM928 346v258.3h3.6v-258.3zM966 346v258.3h33v-258.3z" fill="#999999"/>
<path class="bl" stroke-width="8.7" d="M129,516.4 133,512 139,505 141.4,496 145,494 150,500 153,514 157,540 162,540.4 167,538 171,534 174,522 176.6,504 178.6,496 182,504 184.6,514 187,531 193,540 196,545 199.4,554 203,544 207,543 213,536 217,525 221,513 224.4,505 227,514 230,520 234,524 237,524 241,519 246,520 249,510 251,494 253,474 257,464 262,461 266.6,456 270.6,467 275,458 279,452 284,453.6 288,466 291,484 294,502 296,512 301,516 308,527 313,528 317,535 321.4,540 326,537 329,520 334,519 338,527 343,528 347,521 351,514.4 355,513.6 359,521 363,533 367.4,539 372,535 377,522 381,510 384,498 389,504 392,486 395,476 398,470 401,467 405,478 410,477 414,494 416.6,518 418,540 423,540 426,522 430,512 435,516 438,488 441,468 443.4,463 447.4,471 450,494 453,514 455,526 460,536 465,534 468,514 472,492 476,512 480,527 485,535 490,527 494,520 498,519 501,507 505,502 510,497 514,504 519,503.6 523,496 526,478 530,466 534,457 540,452 547.4,451 552,456 556,468 559,488 562,514 564,536 568,544 573,550.4 577,545 582,544 584.6,528 589.4,524.4 593,533 596.6,545 599,553 602.6,561 606,556.4 611,557 615,562 620,556 623,546 625,528 627,498 632,483 636,498 638,518 640,531 645,528 649,524 652,508 656.6,486 661,487.6 666,491 670,496 677,503 685,517 691,528 695,526 699,508 703,490 707,483 711.4,474 716,475 720,464 724,458 729,447 732,448 737,445 742,449 746,462 749,486 752.6,506 758,505.6 762,516 766,529 771,527 774,511 779,515 782,528 786,538 791,541 795.4,545 799.4,542 804,543 808,536 812.6,535 816,522 820,526 825,534 830,532 834,526 838,523 841,512 846,508 850,520 854.6,526 859,522 863,506 867,496 871,489 875,481 880,477 884,476 888,470 892,461 896,449 900,447 904,441 909.4,438 912,458 915,482 918,498 921,512 925,532 929,533 930,519 933,538 938,552 942,539 947,543 955,548 959,544 963,518 966,490 969,481 972,476.4 975.6,491 980,496.4 985,494.4 989.6,493 993,502 998,506 1000,518 1002,530 1005.6,537 1010,541 1013.6,537 1018,545.6 1021,532 1024,522 1027,518 1031.6,521 1035.6,533 1039.6,544 1044,530 1048,516 1051.6,507.6 1055.6,519 1060,535 1064.6,540 1069,529 1073,521 1077,512 1082,517 1086,528 1089.6,538 1094.4,535 1097.6,524 1102,529 1107,537 1110,518 1111.6,490 1113.6,468 1115.6,450 1118.4,432"/>
</g>
<path class="tk" d="M254.4 604.2v-14.5M254.4 346v14.5M380.2 604.2v-14.5M380.2 346v14.5M506.1 604.2v-14.5M506.1 346v14.5M632 604.2v-14.5M632 346v14.5M757.9 604.2v-14.5M757.9 346v14.5M883.7 604.2v-14.5M883.7 346v14.5M1009.6 604.2v-14.5M1009.6 346v14.5M132.4 582.8h14.5M1118.8 582.8h-14.5M132.4 539.7h14.5M1118.8 539.7h-14.5M132.4 496.6h14.5M1118.8 496.6h-14.5M132.4 453.5h14.5M1118.8 453.5h-14.5M132.4 410.4h14.5M1118.8 410.4h-14.5M132.4 367.4h14.5M1118.8 367.4h-14.5"/>
<rect x="140" y="347.7" width="301.4" height="51.7" rx="3" fill="#fff"/>
<text class="t b" x="149.2" y="389.4" font-size="43.2">animal.n.01</text>
<rect class="sp" x="132.4" y="346" width="986.4" height="258.3"/>
<text class="t" x="122" y="593" font-size="29" text-anchor="end">0.0</text>
<text class="t" x="122" y="549.9" font-size="29" text-anchor="end">0.2</text>
<text class="t" x="122" y="506.8" font-size="29" text-anchor="end">0.4</text>
<text class="t" x="122" y="463.7" font-size="29" text-anchor="end">0.6</text>
<text class="t" x="122" y="420.6" font-size="29" text-anchor="end">0.8</text>
<text class="t" x="122.9" y="377.6" font-size="29" text-anchor="end">1.0</text>
<text class="t" x="257.2" y="645.5" font-size="36" text-anchor="middle">1</text>
<text class="t" x="383" y="645.5" font-size="36" text-anchor="middle">2</text>
<text class="t" x="508.9" y="645.5" font-size="36" text-anchor="middle">3</text>
<text class="t" x="634.8" y="645.5" font-size="36" text-anchor="middle">4</text>
<text class="t" x="760.6" y="645.5" font-size="36" text-anchor="middle">5</text>
<text class="t" x="886.5" y="645.5" font-size="36" text-anchor="middle">6</text>
<text class="t" x="1012.4" y="645.5" font-size="36" text-anchor="middle">7</text>
</g>
<g id="right2">
<g clip-path="url(#cr2)">
<g clip-path="url(#cb2)"><g transform="translate(1246.5 348.95) scale(.25)" fill-rule="evenodd"><path fill="#dcdcdc" d="M94 962l-12-1-5-3-4-8 8-108 5-31 9-33 16-28 6-28 11-16 10-24 4 4 4-3 12-25 13-48 11-24 32-33 8-5 12-1 4-3 7-14 25-32 29-28 8-12 4-16 26-32 21-37 8-6 25-9 7-14 14-10 14-15 4-1 4 3 12 0 11-7 11-12 3-16 27-16 20-21 12-19 4-12 16-17 4-4 24-5 8-5 23-21 10-16 30-20 3-4-2-4 3-4 9-4 16-1 43-19 17-1 45-11 167-10 12 5 3 13-15 152-8 31-12 18-8 20-11 19-7 24-13 12-4 16-13 27-4 5-12 4-8 8-16 34-4 1-4-14-4 3-15 24-4 16-16 20-4 16-10 16-19 46-28 27-4-3-3-10 21-16 6-8-2-4-6-2-8 4-9 14-5 16-11 12-6 16 7 3 4-3 3 4-31 21-12 10-12 15-16 9-14 25-2 8-8 7-2-3 7-12-1-8-4 0-6 4-8 12 1 12-5 20-6 10-8 5-12 0-1-3 9-2 10-10 3-8-1-18-10 6-19 24 1 7 8 5-8 2-16 11-8 1-25 14-9 8-10 24-16 13-20 11-16 13-8 3-2-4 5-8-3-4-12 3-8 5-1 4 6 4 0 4-15 8-4 4 4 8-7 4-39 9-41 19-75 21-40 5zM660 130l17-8 2-4-1-3-8 1-15 10 2 4zM442 314l-4 0 4-8-1-4-3-2-12 8-4 1-3-3 4-8 27-20 5 12-8 12zM359 406l13-12-2-7-12 11-2 4 1 4zM870 431l-4 2 0-4 4-5zM822 492l-2-6 6-6 1 6zM794 538l-1-4 5-9 8-2 1 3-5 7zM226 545l-4-3 2-4 10-6 2 2-2 4zM746 550l-4 0 0 2zM778 570l0-8 4-6 0 6zM714 637l-4-3 8-10 3 2zM146 647l0-6 4-1z"/><path fill="#c6c6c6" d="M90 962l-12-4-5-8 9-107 8-40 9-25 22-44 2-16 11-20 12-9 15-31 13-48 8-17 13-11 15-20 20-9 10-7 12-20 16-16 10-16 24-22 8-12 6-22 29-32 5-13 12-17 3 2-3 8-14 20 1 4 5 3 12-8 11-15 0-8-6-8 26-16 8-12 9-8 12-5 16-3 24-19 9-13 2-12 21-14 24-22 17-32 11-11 32-15 34-26 6-12 4-3 40-19 37-26 39-9 20-8 32-7 156-10 8 2 4 4 3 8-5 60-14 102-8 20-4-14-4 8-2 16-10 32-13 24-8 20-10 12-17 40-19 16-13 24-4 4-4-15-4 4-24 35-4 16-22 28-5 20-13 25-4 3-4-2-4-2 0-4 19-28 1-4-4-4-31 32-3 16-12 20-5 16-13 23-28 19-8 9-8-3-17 8-8 8-4 8-12 8-1 4 6-1 12-14 20-6 12-8 3 5-7 12-12 7-16 17-12 2-16 11-24 10-9 13-1 12-8 16 1 8-3 4-32 14-21 14-19 18-5 2 14 0-1 6-12 10-16 5-12 10-8-5-24 8-11 10 1 8-14 9-16-2-8 1-9 8 10 8-8 4-51 24-74 20-36 5zM592 218l7-8-13 8zM547 242l11-12 0-7-8 4-11 15 3 2zM423 354l8-8-10 8zM735 526l3-4 0-7-5 7-1 4zM670 618l7-8 2-8 11-17-4 0-13 13-13 20 2 3zM730 603l-2-1 2-4 12-7 1 3zM193 630l7-12 2-9-8 4-6 9-2 8 4 3zM550 762l9-16-1-9-8 6-5 11-1 8zM533 770l8-8-7-2-4 3-3 7zM481 798l17-15 12-3 5-6-1-3-31 15-8 12zM469 842l5-8 0-5-11 13 3 3z"/><path fill="#b0b0b0" d="M146 958l-60 4-8-4-4-6 8-101 10-49 9-24 25-48 2-16 6-11 12-11 18-34 19-60 18-16 9-14 8-6 3 4-24 36-13 24-2 8 4 4 8-6 7-10 13-26 4-14 15-12 5-8-16 2-4-2 8-1 16-14 12-20 20-19 12-18 16-14 10-14 5-20 5-9 12-9 12-1 12-5 20-26 11-10-1-4-6-1-2-3 1-4 21-11 4 0 4 4 4-1 16-8 22-28 22-20 8-12-1-8 5-4 44-35 12 0 16-11 4-2 4 2 24-14 21-20-5-2-24 17-16 7-8-6-4 2-16 15 4-17 8-8 12-3 24-15 20-16 28-11 4-3 0-8 4-4 40-25 12-4 32-1 14-6 4-4-10-3-24 8-3-1 1-4 8-4 26-5 16-9 36-8 57-6 99-5 8 2 6 7 0 8-14 121-5 19-16 28-6 24-9 17-8 25-13 18 0 12-14 20-12 28-22 24-7 15-3-3-1-12-4-4-7 16-28 40-1 10-12 8-16 1-7 5-3 4 1 12-4 8-26 28-5 20-11 16-5 20-10 16-30 19-12 3-20 12-30 30-2 4 7 8-3 4-8 0-12 7-20 18-12 3-12 12-8 3-8 13-32 14-33 26-3 4 4 4-2 4-10 7-12 16-10 9 7 4-29 18-8 0-17 6-19 17-13 7 10 4 0 4-48 24-61 16-40 8zM682 142l4-4-6 4zM418 347l-4 3-2-4 6-5 6 1zM834 414l8-6 12-4 6-6 7-24-1-8-8 9-8 17-16 12-2 6zM404 382l4-8-2-3-11 7 0 4 3 2zM730 534l10-12 2-11-4 0-8 11-2 8zM758 555l-4 1-1-2 5-5 2 1zM657 626l13-5 12-11 25-48-17 7-8 14-18 15-2 12-9 12 0 4zM626 698l-7 0 1-4 10-12 8-5 8-1 2 2-10 12zM478 818l-8 2-2-2 1-8 13-9 12-12 16-3 12-11 8 2 8-6 16 1 0 4-28 12-20 13-16 14zM398 882l-2-4 10-4 1 4z"/><path fill="#a7a7a7" d="M142 958l-56 3-7-3-5-7 8-95 11-54 35-72 2-17 16-19 21-40 6-16 1-11 12-29 10-4-19 44 9 3 12-12 24-44 23-23 1-5-7-3 15-24 21-20 14-20 9-7 14-17 11-32 11-6 8 8 8-8 8-4 11-18 13-15 8-4 12-1 7-8 5-12 23-16 17-23 28-26 8-6 8 0 6-5-2-2-8 2-7-4 39-33 16-4 16-9 8 0 32-22 23-24 10-20 12-12 1-8 3-4 7-4 8 3 16-2 8-5 6-8-2-4-20 14-4-2 4-8 6-4 10-3 8 3 64-18 6-6-16 0-2-4 4-4 8-4 33-8 66-8 93-5 8 2 5 7 1 8-14 116-6 20-15 28-8 28-9 16-10 28-12 16 0 12-13 16-3 7-4-3 0-14-4 2-10 12-8 16-16 12-3 4-6 28-5 10-16 22-13 12-6 12-13 1-14 11-3 20-7 11-8 5-2-4 9-20-3-8-4 2-12 18-2 24-6 8-4-3-4 0-20 11-12 17-8 3-16 16-3 4 7 1 1 3-11 12-2 8 4 3 20-9 16-14 4-4 1-8 11-23 16-17 3 8-1 4-14 24-2 4 2 8-8 14-10 2-10 12-20 7-40 29-18 20-4 12-14 11-12 13-12 3-12 10-15 7-4 4-1 8-4 4-20 7-32 25-16 8-7 8 0 8-7 12-18 16 1 8-13 9-12 3-20 8-12 12-23 12-2 4 8 4-9 8-34 16-60 16-40 8zM638 194l23-20-3-3-16 9-9 14zM546 223l-1-5 5-6 4-1 4 3 48-36 12-2 1 2-6 8-2 8-17 13-24 11-12-4zM527 282l9-8-6-1-14 9 2 2zM398 372l-4 1-5-3 13-6 2 2zM870 387l-2-1 2-12 3 4zM842 426l-4-1-1-3 3-8 14-6 2 2-3 4zM335 450l3-5-4 1zM634 690l-4 2-2-2 6-7 4 3zM458 786l4-2 0-4zM514 794l-6 0 10-12 4-2 1 6zM490 812l-13-2 17-18 4-2 4 1 3 3-1 4zM419 822l5-4-6 0-7 4z"/><path fill="#a1a1a1" d="M138 958l-52 3-8-4-4-7 8-89 12-59 36-72 4-20 12-14 28-50 12-1 4-3 28-45 10-11 7-12 27-21 5-7-1-6-12 11-4-1-1-4 5-12 57-64 7-12 3-16 4-8 5-2 3 2-6 16 3 6 4-1 10-9 5-8 14-16 8-16 7-9 8-4 16-4 10-11 6-11 22-17 14-19 16-15 12-9 12 2 12-16 24-10 13-13-1-3-8 0-24 14-14 1 7-8 23-18 12-3 16-9 8 0 4-2 34-24 18-18 23-6 29-24-3-12 22-16 12-12 63-20 3-4-1-3-15-1 2-4 69-16 128-9 8 2 5 7 1 8-6 59-8 51-10 30-16 32-6 21-23 47-13 16 5 8-1 4-8 6-3-2 6-16-11-5-7 21-37 44-6 20-1 12-15 16-6 11-12 9-8 1-28 31-8-4-20 28-4 14-12 10-16 9-12 15-12 6-23 26-3 32-3 8-6 8-9 6-16 2 0 12-8 10-3-2-1-9-4 0-20 15-5 6 1 7 12-8 12-2 2 3-1 4-21 20-8 2-16 12-40 18-4 12-32 25-4 1-3-2 7-18-14 10-9 20-5 5-8 5-12 0-17 10-7 9 40-13 3 4-5 8-16 12-2 12-3 4-37 14-16 14-23 12-3 4 3 8-4 4-22 12-47 10-48 15zM574 214l-7 0 0-4 3-4 28-19 5-1 3 4-3 8zM875 334l8-12-1-10-8 14 0 12zM291 518l6-16-3-1-8 13 0 6zM742 532l0-6 8-11 0 8zM698 595l4-14 6-3-2 9zM698 615l-4-1 2-4 6-3zM678 628l-4 2-1-4 5-6 4 2zM490 808l-3-2 1-4 6-7 4-1-1 8zM387 846l5-4-2-2zM270 930l20-7 8 0 8-5-4-2-8 4-14 2-8 4z"/><path fill="#9b9b9b" d="M130 958l-44 3-8-4-4-7 8-84 12-60 16-36 11-16 11-24 3-16 27-44 12-15 12-2 4-5 28-47 4-4 12-1 4-4 3-10 0-8 21-17 16-26 8-4 8-10 7-15-2-12 23-30 8 3 4-2 15-15 21-27 12-1 16-6 5-10-2-8 3-4 28-32 20-12 1-8 17-19 12-7 8 2 4-2 16-17 28-16 10-13 1-4-9-4 8-8 14-2 44-33 12-12 24-8 38-29-6-8 32-28 53-16 11-8 1-4-4-4 8-4 47-11 128-10 11 5 2 12-5 56-8 48-12 36-16 31-4 6-8 1-4 3-24 36-24 47 0 9-20 19-5 12-11 12-13 24 1 12-16 20-16 9-24 27-12 1-28 41-8 7-4 1-4-2-3 8-17 18-12 7-10 15-16 16-2 8-1 20-7 17-8 6-7-3-1-4 4-12-4 4-1 8-53 44-2 24-8 9-16 8-12 2-21 13-4 4-1 8-17 16-9 5-1-5 12-20-7 0-28 29-8 1-12 10-6 8-26 14-7 14-13 12 4 4 20 1 12-7 3 6-5 4-10 1-27 15-9 9-27 15-17 15-12-2-32 11-19 16-36 12zM586 206l-8 4-3-4 15-12 9-4 3 4-2 4zM518 270l-4 2 0-2 8-7 2 3zM910 289l-3-3 3-5zM906 294l0-6 2 2zM882 340l-2-6 10-23 8-6 3 1-11 26zM378 408l-4 1 0-3 8-8 3 4zM530 730l7-8-3-5-4 0-7 9-1 4 4 3zM418 838l-4 2-8-2 1-4 11-4 8 0z"/><path fill="#959595" d="M126 958l-40 3-8-5-4-6 12-105 12-43 12-29 12-15 8-21 8-9 5-2-1-16 16-29 12-17 16-7 4-4 24-43 4-5 12-3 8-5 14-27 34-36 22-36-5-8 1-4 14-16 4-1 4 5 4-2 20-20 20-28 4 1 0 5 4 1 20-16 8-13 4-16 12-10 12-17 24-13 4-4-1-8 9-12 8-5 12 0 25-15 37-36 19-24 35-24 13-12 23-10 68-47 6-7 0-4-7-4 6-4 47-16 11-8 3-8 7-4 35-10 132-11 10 5 3 12-5 53-8 44-12 37-12 23-4 6-12 8-24 35-38 70-40 60-10 26-20 15-20 23-18 8-22 30-22 14-14 22-16 10-13 20-15 16-8 19-8 1-4-8-4 2 0 5 4-1 3 2-11 13-6 15-42 34-28 10-15 24-2 12-3 5-24 11-17 4-23 25-12 6-23 21-24 12-9 17-17 15 2 4 15 1 2 3-3 4-15 8-15 4-3 8-5 4-25 15-12 1-32 14-20 14-38 16zM594 199l-5-1 5-3zM379 458l4-12-6 4-3 12zM371 478l2-4-3-1-4 5zM319 494l-1-5-6 5 2 3zM626 655l-5-1 9-23 1 11-1 8zM546 730l-8 4-3-4 7-5 8-1 1 2zM482 776l-3-2 7-8 1 4zM314 886l5-4-5-1-4 5z"/><path fill="#8f8f8f" d="M122 958l-36 2-10-6-2-8 8-71 4-25 14-48 14-30 11-14 5-16 4-6 8-1 7-9 1-8-3-12 7-16 20-24 16-9 16-28 4-4 8 0 9-15 11-9 16-27 16-19 14-9 9-20 9-12 12-4 4-4 14-20 1-8 5-6 4-2 4 5 4 1 6-26 6-10 4-4 12-1 16-12 24-32 12 5 4-2 13-16 1-8-6 0-16 16-3-4 11-19 35-21 0-12 5-8 7 0-5 8 2 4 4-2 4-2 3-8 9-8 24-12 12-16 24-22 8-14 8-8 12-5 11-11 29-16 43-32 21-11 20-15 13-14-2-4 2-4 39-15 15-9 7-8 31-12 35-5 96-7 8 0 6 4 3 8-6 60-7 35-13 37-9 16-44 60-55 96-25 36-9 24-5 1 0-6-4 0-13 21-17 20-18 11-16 25-26 16-14 23-16 10-16 23-20 22-12 1-16 12-10 5-3 4 1 8 4-1 8-11 5 4-7 20-46 24-5 8-19 12-12 17-16 6-6 5-4 16-22 10-20 22-42 32-16 8-18 24-16 11-20 4-8 9 4 3 12-6 12-1 16 4-28 10-11 14-17 9-12 0-13 11-47 21-23 15-17 5zM422 426l5-12-5-2-5 6-3 11 4 0zM370 482l7-8 2-8 13-24-2-3-8 2-7 5-6 12-3 13-8 9-8-1-1 3 1 2zM562 687l-3-1 3-5 5 1zM313 890l15-12-10-1-15 9 3 6 4 0z"/><path fill="#898989" d="M114 958l-28 2-8-4-3-10 11-91 16-53 8-14 11-10 9-23 4-2 4 1 7-16 9-14 16-15 10-15 14-11 20-20 2-13-2-1-8 20-20 8-20 18-8 13-4 1-2-7 3-8 22-24 13-8 16-26 8-2 12-15 8-4 16-26 4 1 4-2 3-14 4-8 9-10 12-4 13-30 19-9 20-21 4-2 8 2 20-8 7-6 19-36 1-16 13-22 8-2 4 4-12 24-1 4 5 2 8-5 7-9 3-8-4-8 18-16 10-20 6-8 2-4-2-4 8-6 4-1 8 4 4-4 11-29 5-4 12-2 12-8 10-18 22-17 12-19 4-3 8 3 16-15 1-5 4-4 15-7 12-1 7-4-1-8 3-4 34-24 34-20 23-20 1-8 51-23 18-13 20-8 30-5 96-7 8 0 6 4 3 12-7 60-10 40-12 29-62 91-22 40-32 52-21 20-7 12-4 3-4-7-1 4 2 4-5 9-8 7-4-2-4 5-8 25-18 16-14 22-28 17-14 21-14 9-32 41-16 6-28 18-6 10-2 10-11 14-37 28-16 20-22 12-14 20-16 10-16 18-76 54-12 18-12 1-8 5-13 10-7 9-24 15-3 12-12 12-41 20-15 12-20 8zM579 266l6-4-3-5-6 5 1 4zM362 459l1-13 3-4 5 0-5 13zM346 871l-4 2-3-3zM326 891l-4 2-3-3 10-4z"/><path fill="#838383" d="M110 958l-28 0-5-4-2-8 11-86 20-60 16-14 8-20 12-13 12-24 16-16 12-17 14-10 23-24 7-35 4 6 6-3 6-25 4-6 8-1 8-8 5-8 3-16 16-9 8-10 8 2 20-11-4-4-4 1-12 6-4 5-2-8 6-12 30-16 6-9 3 1 4 8 5 2 12-4 5-6-1-4-12 3 1-7 26-16 5-14 16-22 7 0-3 12 4 0 4-3 22-37 2-12 16-16 7-16 9-8 8-2 8-5 9-21 19-12 12-13 16-26 20-12 16-1 24-12 17-16 23-12 28-28 0-2-12 6-12-4 32-24 32-17 27-23 1-8 32-15 12-3 22-18 22-8 24-4 98-8 11 4 4 12-8 60-9 34-12 29-44 68-22 29-14 29-36 59-24 21-13 7-7 9-12 9-8 13-4 3-8 0-20 18-2 4 2 2 12-8 12-4 4 1 1 5-31 40-26 16-16 21-8 4-26 27-12 20-10 2-32 21-29 41-27 19-17 21-25 16-15 20-27 23-68 50-8 3-12 12-12 5-20 20-12 7-6 8-18 12-11 16-12 12-25 12-23 16-17 7zM681 190l5-4-4-1-7 5zM819 370l-1-5-2 5zM402 430l-1-4 2-8 7-10 4-2 2 4-6 13-4 6zM402 474l2-4-2-3-7 7 3 2zM330 538l5-4-11 0-2 4zM286 590l0-10-2 6 0 4zM247 634l7-8 0-12-9 16 0 4zM198 666l-2 0-1-4 11-19 4 3-3 12-5 7z"/><path fill="#7d7d7d" d="M106 958l-20 1-8-4-2-5 10-85 8-25 16-34 4 2 4-2 6-16 29-56 29-33 68-63 9-16 3-12-3-8 2-4 9-13 4-3 3 4-7 20 4 3 4-1 17-26 2-16 7-12 10-7 12 0 24-17 20-28 0-12 16-12 12 1 7-5 35-60 4-12 14-12 12 2 11-14-6-8 18-16 9-20 12-7 26-29 2-12 5-4 19-7 12-2 33-15 11-12 20-12 32-28 19-20-1-8 2-4 8-5 8 0 2 1-5 8 3 1 5-5-1-8 9-12 7-5 8 3 21-10-1-8-8-4 2-4 17-8 13-1 26-23 24-8 24-4 94-8 9 4 3 12-7 60-9 30-12 28-48 74-12 12-13 20-7 20-24 40-8 6 5-14-1-18-8 9-12 25-8 12 0 4 5 4-3 8-26 19-3-3 2-4 13-12 7-12-1-4-6-3-4 3-23 32-1 4 2 8-54 52-1 16-23 37-12 6-12 19-20 19-16 11-12 15-20 13-40 48-13 8-15 14-12 1-5 5 0 4 3 4-3 4-23 17-16 7 3 8-15 15-68 51-40 26-16 18-12 6-15 16-20 12-7 12-12 12-54 32-18 4zM555 294l1-4-2-1-6 5 2 2zM581 330l1-7-6 7 2 2zM511 350l-1-6-5 6zM461 426l6-8-1-8-13 16 1 2zM390 471l0-6 6-3 0 4zM718 512l-4-6 2-12 18-14 8 0 0 6zM334 526l-8 0-2-4 14-8 4 4zM317 570l12-12 3-4-2-2-4-1-4 2-13 17 1 3z"/><path fill="#777777" d="M102 958l-20 0-6-8 10-81 12-31 20-23 10-25 29-56 61-63 32-28 16-24 8-1 8-7 12-20 20-13 22-20 6-8 0-8 16-13 12-23 10-8-5-8 7-5 16-4 9-7 35-57 8-6 5-1 0 4-7 12-1 4 3 4 8-2 8-7 4-7 9-32 44-40 2-4-7-6-1-6 17-20 8-7 24-11 8-2 4 6 11-6 7-8-14 1-3-5 4-4 35-16 8 2 4-2 8-8 4-12 17-16 18-12 17-19 20-8 29-29 17-8 4-4 6-14 30-18 7-12 6-4 26-8 24-4 87-7 9 3 3 12-8 60-8 26-16 32-14 18-18 31-16 13 1 8-13 12-5 12-11 18-4 4-8-3-4 2-12 14-16 28-8 9-8-4-11 8-4 12-24 36-4 12-17 21-25 19-11 12-4 8 2 12-5 12-22 16-15 16-3 12-9 11-20 14-1-5 2-8-5-2-4 2-11 12-4 8-10 8 2 12-2 4-19 18-6-6 1-4 10-16-1-3-8 3-10 12 0 4 4 4-9 20-13 12 3 8-19 15-12-2-4 7-4 2-8-2-3 4-13 7-6 5-7 20-24 16-10 16 3 4-1 4-15 13-19 7-12 16-41 29-16 18-17 9-14 16-23 12-8 12-16 16-50 28-50 8zM567 310l3-5-6 5 2 2zM576 338l12-12 3-12-1-4-8 5-15 19 3 5zM542 342l0-5-5 5zM834 358l0-7 2 3zM566 370l2-4-2 0zM529 394l9-7 8-14-4-1-14 14-3 8zM512 410l8-8-2-4-11 8-1 8zM730 495l-4 2-2-3 2-4 8-6 3 2zM671 510l5-8-2-2-5 6zM429 538l13-13 4-7 0-5-8 4-17 21 1 4zM642 562l10-12 1-4-3-5-8 6-8 15 4 4zM536 650l4-12-6 4-3 8 3 3zM532 670l6-4-8-7-8 6-4 0-2 5zM439 726l19-13-7 1-1 4-4-3-8 3-5 8zM486 724l-4 1-3-3 11-7 3 3zM454 756l-4 2-3-4 7-6 4 1 1 1z"/><path fill="#717171" d="M98 958l-16 0-4-4-2-8 10-72 4-14 10-22 19-20 11-25 20-31 16-16 8-22 4-3 2 1-4 12 6 1 4-4 14-21 1-12 9-13 40-37 16-21 16-10 13-23 7-5 12-5 38-38 15-24 4-12 18-12 2-8 19-16 24-33 8-5 3 2 3 4-7 8 1 4 8 2 4-2 3-4 1-12 11-12 13-26 8-4 9 6-5 8 2 8-5 8 11 1 16-17 16-6 20-30 8 5 4-2 16-15-12-6-12 10-4 1-4-4-4 0-16 12-8-3-8 7-12 5-12 8-7-2 2-4 17-11 12-15 8-6 12 0 20-12 16 8 23-24 6-24 3-6 4-2 2 4-4 20 2 2 4 0 26-34-2-3-11-1 0-4 14-20 12-12 1-8 10-12 6-5 12-2 12-7 8 0 8-5 9-9 2-12 5-6 25-14 3-4-2-4 4-4 26-13 2-3-3-8 13-10 26-14 3-4-1-4 4-4 22-8 27-4 79-7 8 3 4 11-8 58-8 25-12 25-20 24-12 22-26 27-13 24-4 12-5 7-12 0-16 17-16 30-4 3-16 4-16 15-12 28-32 46-12 11-12 3-16 21-12 2-8 5-12 16 2 12-10 7-20 24-12 0-4 4-3 13-5 6-68 52-16 21-11 9-7 16-34 27-12 2-23 11-7 8-2 9 4 1 20-11 8-2 2 3-34 30-24 14 0 9-12 9-24 29-12 5-24 26-24 15-12-1-7 4-3 4 10 4-2 4-22 12-7 12-16 16-13 8-28 11-16 10-43 7zM668 250l5-4-3-2-8 6zM534 323l-1-5 5-7 8-3 3 2zM489 474l18-12 4-12-1-2-8 1-16 16-5 9 5 2zM422 546l16-12 17-24-1-3-12 2-24 26-4 11zM383 538l7-16-4-9-15 25 3 3zM670 530l-6 0-1-4 23-14 2 6-3 4zM606 542l11-12-3-4-10 8-1 4zM348 590l14-8 10-12 0-4-11 4-20 20 1 2zM304 626l13-12 1-4-8-6-13 22zM542 655l0-5 4-7 1 7zM219 702l5-8-2-5-12 13 4 3z"/><path fill="#6b6b6b" d="M94 958l-12-1-4-3-2-8 10-68 17-40 19-20 16-30 32-37 12-9 16-19 28-23 9-18 11-16 1-8 15-20 8-3 4 4 0 9 4 2 8-3 19-17 17-6 24-26 27-20 8-12-3-8-8 1-44 37-4 1-5-3 14-20 23-23 20-5 12-8 12-20 5-16 6-8 1-4-4-4 1-4 15-21 4-1 8 14 12 0 0 4-7 8 0 4 3 1 11-9-1-12 22-36 4-2 12 2 12-3 16-11 1 2-4 4-4 12-25 13-13 27 9 8 40-25 9-11 0-4-13-4-3-4 11-8 2-12 10-12 20-12 9-12 22-20 2-4-1-4-9-4 3-8 14-11 16-5 18-28 19-16 15-24 26-20-2-2-20-2 3-4 13-9 21-7 19-25 43-31-7-4 12-5 13-11 3-4-2-8 36-20 6-12 20-8 26-4 74-7 8 3 4 8-8 57-8 25-12 23-16 18-21 33-25 28-14 23-4 4-12 1-4 12-18 24-10 20-8 3-2-3 2-8-4-1-4 4-9 17-22 20 1 12-10 18-8 8-8 3 12-25 10-12-2-4-8 3-12 9-9 28-19 25-6 15-14 18-4 2-8-2-28 30-6 8-1 12-9 12-12 3-20 17-8 2-1 2 4 8-11 11-8 4-8-3-12 8 0 4 9 0-17 11-24 29-20 18-8 2-3-4 3-8-4-2-11 14-18 12 1 4 16-3 11 3-19 16-32 16-20 16-12 5-21 23 5 5 16-7 2 2-2 4-8 4-8 1-28 15-16 4-4 4 0 4 28-4 8-5 5 1-8 12-13 10-8-4-16 6-39 24-7 8 2 7 4 1 28-19 4-1 2 4-8 12-18 13-12-3-21 14-5 4 4 8-3 4-15 10-16 2-3 8-13 8 0 2 4 0 7-2 9-11 8-4 3 3-1 4-14 16-16 8-20 6-19 14-37 7zM639 314l3-4-5 4zM418 554l20-16 16-19 12-6 7-7 9-12 0-8-40 18-8 6-8-1-4 4-15 37 3 5 4 1zM563 582l6-8 13-10 4-2 8 3 4-4 6-11 20-20 6-18-12 6-18 16-14 28-8-4-6 4-12 20zM579 582l8-8-5-1-8 5 0 6zM286 627l-2-1 0-4 12-24 4-4 4 0-4 20-6 8zM520 630l4-4-2-4-5 4-1 4zM334 819l-2-1 2-5 2 1z"/><path fill="#656565" d="M94 958l-12-1-4-4-2-7 10-64 4-13 18-31 17-20 13-24 32-38 4-3 7 1 1 11 20-13 8-14 1-4-3-4 4-8 14-13 15-19 3-8 14-13 4-2 1 3-9 16 0 10 4 0 34-34 1-4-6-4 11-8 8 0 7-4 10-12 15-10 27-30 21-11 16-15 5 2 0 8 3 2 7-6 11-20 20-16 6-8 4-1 8 3 7-2 17-18 8 0 8-6 4-9-8-2-8 6-4-1 3-10 61-48 5-20-1-5-4 0-8 7-2 10-6 7-4 2-4-3 11-26 24-16 11-16 27-24 15-24 16-7 17-13 3-13 8-4 5-7-7-4 5-8 9-8 2-4-2-4 3-4 28-16 2-4-4-8 11-12 8-13 8-3 15-16 28-20 13-18 8-3 8 3 17-10 3-4 0-4-8 0-5-4 3-4 18-9 8-15 12-6 31-6 69-7 8 3 3 12-7 49-4 15-12 26-16 17-16 23-14 14-34 53-12 1-10 10-6 16-16 20-12-3-31 43-33 16-25 24-12 16 1 3 20-12 0 5-20 24-8 21-8 3-3-4 6-20-3-6-20 17-12-2-12 7-6 8 2 2 12-7 14-3-28 32-18 13-27 27-4 8-21 16-16 21-13 7-1 4 2 3 8-8 4 5-6 16-10 13-8-7-4 0-28 18-5 12-15 16-20 9-10 11-1 4 6 4 6 0-2 8-27 20-17 8-19 20-16 12-4 6-8 2-18 16-6 8 1 8-4 4-45 34-9 2-15 12-9 12-16 12 7 4 2 4-20 12-3 8-18 12-4 12-15 15-9 5-16 4zM624 466l7-8-1-5-10 9 2 5zM654 502l-3 0 1-4 8-20 6-7 4 1 3 2-1 4-5 12zM454 495l-7-1 11-9 4 1-1 4zM612 506l9-8 0-8-3-6-13 18 0 4zM394 551l-8 1-4-2 0-4 20-26 10-22 6-7 4 1 3 6-1 4-18 38-4 6zM581 522l10-12-1-2-4-1-8 4-7 11 3 4zM543 534l13-12-2-6-8 2-9 8-3 10 4 1zM342 575l-2-1 2-5 14-7-1 4zM498 586l8-12-4-3-13 15 1 3zM523 606l-4-4 5-16 9-12-3-1-4 0-4 4-6 17 2 8-2 4zM363 638l19-19 24-13 4-8-4-2-4 1-20 15-8 3zM479 614l13-12-2-3-8 3-10 12 2 2zM422 694l19-8-3-10-8 6-9 12zM190 751l-5-1 5-12 8-8 8 0zM274 862l-9 0 2-4 19-15 4 3-1 8z"/><path fill="#5f5f5f" d="M90 958l-11-4-2-8 13-73 48-71 28-35 4-4 3 3-8 20-8 12 1 6 32-28 7-14 12-12 5-9 22-15 3-4 0-8 15-3 16-19 16-1 4 3 12-8 9-12 0-4-5-2-8 3 1-5 14-12 15-20 16-12 22-28 28-15 5 3 0 8-3 4-28 20-19 36-4 8 1 8 9-4 8-16 16-16 30-20 19-20-2-5-8 1-3-4 17-16 6-18 12-7 24-5 12-14 20-12 14-20-2-12 7-12 37-28 8 3 8-7 1-4-5 0-8 7-1-7 12-20 5-16-6-8 5-8 17-10 15-14 5-9 4-1 4 10 9-16-2-4 1-4 30-24 2-8 12-16-1-8 3-4 6-5 8 4 20-11 4-8 11-12 1-9-4-3-8 3 0-8 4-2 8 2 11-11 0-12 11-8 18-20 12-10 22-10 20-16 10-16 17-12-1-4-7-4 1-4 7-4 36-8 63-6 8 3 3 11-7 45-8 26-8 15-54 62-13 24-9 11-12 4-36 40-4-7-4-1-12 15-8 2-2-4 4-12-2-2-4 3-6 7-1 8-8 12-1 12-8 16-4 5-11-1 7-3 9-21-1-3-8 4-19 23 3 6 8-6 3 4-27 29-8 4 2-17 7-12-1-2-6 2-13 24-1 16-4 6-4 1-4-10-8 2-4-9-24 26-4 0-1-4 3-12 10-18 20-9 8-8 9-5 1-8 6-18-5 2-5 12-6 6-16 3-24 16-16 23-1 28-17 24-4 24-6 5-8 0-12 6-16 13-3-8 5-8 29-16 1-8 5-8-2-12 14-20-7-8 7-12 2-12-7-5-4 1-1 8-9 16 7 4-7 16 0 8-2 4-18 24-14 12-6 16-24 20-14 31-16 8-8 6-28 41-7 14-9 10-12 0-12 10-6-4 2-13-4 1-4 6-9 14 9 8-8 12 0 4 8-4 5-16 7-7 8 1 12-9 8 2 12-2 4 3-32 26-12 14-20 12-22 20-8 12-13 12-1 4 4 4 12-2 2 2-18 13-28 26-4 3-12 1-10 9-6 8-6 16-22 15-20 21-17 12-6 8 1 8-9 8-3 8-17 12-13 20-8 8-22 8zM779 202l11-8 2-4-2-4-8-1-9 9-1 4 2 4zM751 238l10-8 2-20 6-8 0-4-3-2-8 3-9 7 8 8-16 24zM706 251l-7-1 7-5 5 1-2 4zM734 298l9-8-1-9-13 9-6 8 3 2zM708 334l2-4-4 2 0 4zM684 342l7-8-1-2-4 1-5 5-2 4 3 2zM782 347l-1-5 5-5 1 5zM612 390l7-8-5 0-9 8 1 3zM626 398l2-4-2-1-8 5 4 2zM674 432l-3-2 7-11 3 7zM642 459l-4 1 0-2 4-10 4-6 4 0 1 8zM534 563l-6-1 30-35 6-1 4 8-10 12 4 1 6-5 4-8 14-12 16-7 4 3-6 8-22 15-16 18-8 2-6-3 6-8-9 8zM503 550l6-4 0-4-3-1-8 5-1 4zM472 566l7-8-1-4-8 2-4 6 0 4 4 2zM486 627l-4 2-5-3 3-4 10-4 1 4zM339 714l6-4 14-20-1-6-4-4-14 14-6 20zM426 712l-6-2 6-6 4 1-1 5zM410 719l-4 3-4-4 12-8 1 4zM386 742l-4 2-3-2 11-5z"/><path fill="#595959" d="M710 367l-1-5 5-20 12-10 10-14-2-3-16 1-3-2 27-16 9-16 1-8-6-2-4 2-30 24-11 20-15 7-28 28-4 3-4-2-4-4 0-4 8-12-3-8 2-4 19-16 6-16 40-27 12-13 12-1 30-23 32-40 1-4-17-12 1-4 49-40 18-20-1-12 5-4 32-8 58-6 6 2 4 4 1 8-7 41-8 26-8 14-12 11-31 40-17 17-24 10-14 21-1 12-9 12-8 4-5 0 16-20 0-4-3-1-5 1-19 14-4-6-8 2-7 6-3 12-6 8-12 10-9 2-4 4 1 8-12 17-8 4-8 0zM875 218l3-6-4 2zM696 306l6-8 2-16-2-2-19 22 3 7zM802 302l-3-4 3-6zM798 306l0-7 4 3zM614 456l-4 0-1-6 9-8 4 0 0 4zM562 470l-4 3-5-3 3-8 5-4 25-13 4 4-1 5-7 7zM534 475l-3-5 1-4 8-4 1 4zM518 531l-11-1-2-8 25-34 4 2-5 12 5 2 12-1 1 3zM486 547l-6-1-1-4 7-9 8-4 10 1-5 8zM458 598l1-8 11-9 12-20 8-4 9 1-21 27zM398 646l-4 2-1-2 7-12 4-12 10-11 12-9 1 4-2 8zM362 611l-3-1 3-4 2 0zM90 958l-10-4-3-8 13-68 44-63 8-7 4 0 4 6 4 1 44-35 24-11 16-18 12-5 28-20 8-2 6-10 1-8 4-8 22-24 21-32 5-12 9-7 2 3-1 4-17 32-5 28-3 5-8 2-6 5-6 12-10 12-1 12 1 4 6 2 13-6 9-12 14-5 20-24 8-6 4 2 2 9-11 16-3 12-16 10-12 13-12 5-9 12 1 4 4 2 16-13 20-8 1 3-5 8-16 13-16 4-12 9-22 30-32 32-27 20-3 12-9 8-6 12-25 22-7 14-20 8zM374 681l-4 1-1-4 3-12 14-9 3 1 4 12zM422 680l-4 1-2-3 6-11 8-8 7-1zM274 762l18-20 1-8-3-6-4 2-11 24-7 8 2 2z"/><path fill="#535353" d="M834 264l-5-2 6-12-1-4-4-3-20 11-10-4 10-12 0-8-12 8-4 8-16 11-20 6-15-1 16-20 19-14 20-28 15-14 7-16-6-7-10-1 40-36 17-20 2-12 4-4 31-8 52-6 6 2 4 8-6 42-12 32-16 17-34 45-10 9-4 1-4-2 9-16 2-8-3-3-4 2-11 9-5 8-3 12-17 24zM833 170l3-8-4 0-7 4 1 5 4 1zM726 271l-4-1 4-5 2 1zM790 279l-7-1 7-7 7-1 0 4zM746 308l-1-6 5-4 0 6zM118 954l-32 3-8-7 8-54 8-20 44-55 8 7 4 0 20-21 28-18 20-7 12-11 12-6 8-12 16-10 3 3-13 12-5 8 0 20-5 12 3 16 5 0 24-18 12-12 11 2-1 4-25 20-5 16-27 16-6 16-27 20 0 8-10 20-19 16-13 20-19 8zM262 793l-7-3 0-4 11-8 3 4zM214 814l4-3 13-1 9-8-2-4-8 1-12 9-8 1-5 5 5 3z"/></g></g>
<path class="bl" stroke-width="9.3" d="M1267.6,584 1267.6,560 1269,560 1269,514 1270.4,514 1270.4,492 1273,486 1275,476 1277.6,472 1279,460 1280.4,444 1283,436 1285,412 1292,411 1295,404 1305,394 1313,393 1318,388 1324,386 1329,382 1336,379 1385,379 1388,376 1395,375 1398,372.4 1419,372 1423,370 1444,369.6 1448,367.4 1483.6,367.4 h4.7"/>
</g>
<path class="tk" d="M1267.6 604.2v-14.5M1267.6 346v14.5M1246 582.8h14.5M1504.8 582.8h-14.5M1310.8 604.2v-14.5M1310.8 346v14.5M1246 539.7h14.5M1504.8 539.7h-14.5M1354 604.2v-14.5M1354 346v14.5M1246 496.6h14.5M1504.8 496.6h-14.5M1397.2 604.2v-14.5M1397.2 346v14.5M1246 453.5h14.5M1504.8 453.5h-14.5M1440.4 604.2v-14.5M1440.4 346v14.5M1246 410.4h14.5M1504.8 410.4h-14.5M1483.6 604.2v-14.5M1483.6 346v14.5M1246 367.4h14.5M1504.8 367.4h-14.5"/>
<text class="t i" x="1490.6" y="538.5" font-size="28.8" text-anchor="end">AUC</text>
<text class="t i" x="1494" y="572" font-size="28.8" text-anchor="end">0.911*</text>
<rect class="sp" x="1246" y="346" width="258.8" height="258.3"/>
<text class="t" x="1236.3" y="593" font-size="29" text-anchor="end">0.0</text>
<text class="t" transform="translate(1267.6 614.8) rotate(-90)" x="0" y="10.6" font-size="29" text-anchor="end">0.0</text>
<text class="t" x="1236.3" y="549.9" font-size="29" text-anchor="end">0.2</text>
<text class="t" transform="translate(1310.8 614.8) rotate(-90)" x="0" y="10.6" font-size="29" text-anchor="end">0.2</text>
<text class="t" x="1236.3" y="506.8" font-size="29" text-anchor="end">0.4</text>
<text class="t" transform="translate(1354 614.8) rotate(-90)" x="0" y="10.6" font-size="29" text-anchor="end">0.4</text>
<text class="t" x="1236.3" y="463.7" font-size="29" text-anchor="end">0.6</text>
<text class="t" transform="translate(1397.2 614.8) rotate(-90)" x="0" y="10.6" font-size="29" text-anchor="end">0.6</text>
<text class="t" x="1236.3" y="420.6" font-size="29" text-anchor="end">0.8</text>
<text class="t" transform="translate(1440.4 614.8) rotate(-90)" x="0" y="10.6" font-size="29" text-anchor="end">0.8</text>
<text class="t" x="1237.2" y="377.6" font-size="29" text-anchor="end">1.0</text>
<text class="t" transform="translate(1483.6 614.8) rotate(-90)" x="0" y="10.6" font-size="29" text-anchor="end">1.0</text>
</g>
<g id="left3">
<g clip-path="url(#cl3)">
<path d="M290 684.3v258.3h28.6v-258.3zM492 684.3v258.3h11.4v-258.3zM760 684.3v258.3h3.6v-258.3zM856.6 684.3v258.3h3.6v-258.3zM877.6 684.3v258.3h3.4v-258.3zM886 684.3v258.3h16v-258.3zM1003.8 684.3v258.3h7.6v-258.3z" fill="#999999"/>
<path class="bl" stroke-width="8.7" d="M129,896.8 133,898.4 138,899.6 141,904 144.6,912 149,909 153,903.6 158,905.6 161.4,907 166,904 170,894 174,881 178.6,882 182,898 187.4,898 190,864 193,852 195.4,848 197.4,864 199,881 204,882 207.4,871 211.4,877 216,876.4 221,875 225,878 227,892 229,904 233,907 237,903 242,904.4 246,905.6 250,901 254.6,902.4 259,900.4 264,901.6 268,905 271,908.6 276,908 279.4,909.6 284,902 287.4,888.4 292,890.4 296,895 299.4,884 303,862 308.6,858 312.6,867 317.4,866 321,877 326,884 330,887.6 334,892 338,890 342,896 346,908 350.6,912 355,905 358,888 362,880 367,877 372,876 375.4,885 380,877 385,885 389,889.6 393,898 397,897.6 402,901 406,904.4 410,905 414,900.4 418,901 422,895 426,884.4 428,889 431,895 435,900 439,897 443,904 447,896 450,882 452,877 456,876.6 459,884 463,896 467,905 472,909 476,904 478.6,888 480.6,880 485,878 489,891 493,886 497.4,888.4 502,880 506,875.6 510,883 514,880 518.6,883.6 523,879 527,874 530.6,863 535,871 537,882 539,893 544,899 548,902 556,901 560.6,897 565,897.6 569,891 573,883.6 577,890 582,893 586,889 589,877 594,876 596,888 598.6,900 602.6,911 607,909 611,907.6 615,908.4 619.4,910.4 623,906 627,896 632,888 636,878 640,867 644.4,860 648.6,870 652,892 657,898 662,894 666,884 669.4,871 674,867.6 678.6,869 682,882 686,894 690.6,899.6 695,898.4 698.6,889.6 703,896 707,902.4 711.4,903 715.4,899 719.4,900.4 725,898.4 729,895 732.6,890.4 737,893 741,897.6 745,895 750,892 754,886 758,882 761,872 766,868 770,874 775,874.4 780,878 785,882.4 792,889 795,898 799,904 803,908.4 808,910.4 813,906 817,902 820.6,897.6 824,903 829,904 833,901.6 837,908.4 842,909 847,904 850,900 853,886 858,879 863,886 867,895 871,901 875,901.6 880,903 882,892 884,872 887,852 892,843 896,852 898.6,868 901,884 904,896 909,898.4 913,906 918,901 922,898 926,901 929.4,891.6 934,900 938,906 942,903 946.6,905 951,899.6 955,894 958,879 964,878 967.6,889 972,891.6 976,887.6 981,884 985,876 988.6,862 994,863.6 998,873 1002,878 1005.6,895 1009,889.6 1014,890 1018,894.4 1023,888 1030,879.6 1035,883 1039,893 1043,898 1047.6,904.4 1052.4,901.6 1055,886 1060,881.6 1063,893 1068,908.4 1072.4,905 1077,901.6 1081,901.6 1085,896 1089,886 1093,873 1098,867 1101,884 1103.6,898 1106,906 1112,905 1119,906.4"/>
</g>
<path class="tk" d="M254.4 942.6v-14.5M254.4 684.3v14.5M380.2 942.6v-14.5M380.2 684.3v14.5M506.1 942.6v-14.5M506.1 684.3v14.5M632 942.6v-14.5M632 684.3v14.5M757.9 942.6v-14.5M757.9 684.3v14.5M883.7 942.6v-14.5M883.7 684.3v14.5M1009.6 942.6v-14.5M1009.6 684.3v14.5M132.4 921.1h14.5M1118.8 921.1h-14.5M132.4 878h14.5M1118.8 878h-14.5M132.4 834.9h14.5M1118.8 834.9h-14.5M132.4 791.9h14.5M1118.8 791.9h-14.5M132.4 748.8h14.5M1118.8 748.8h-14.5M132.4 705.7h14.5M1118.8 705.7h-14.5"/>
<rect x="140" y="686" width="311" height="51.7" rx="3" fill="#fff"/>
<text class="t b" x="149.2" y="727.7" font-size="43.2">vehicle.n.01</text>
<rect class="sp" x="132.4" y="684.3" width="986.4" height="258.3"/>
<text class="t" x="122" y="931.3" font-size="29" text-anchor="end">0.0</text>
<text class="t" x="122" y="888.2" font-size="29" text-anchor="end">0.2</text>
<text class="t" x="122" y="845.1" font-size="29" text-anchor="end">0.4</text>
<text class="t" x="122" y="802.1" font-size="29" text-anchor="end">0.6</text>
<text class="t" x="122" y="759" font-size="29" text-anchor="end">0.8</text>
<text class="t" x="122.9" y="715.9" font-size="29" text-anchor="end">1.0</text>
<text class="t" x="257.2" y="983.9" font-size="36" text-anchor="middle">1</text>
<text class="t" x="383" y="983.9" font-size="36" text-anchor="middle">2</text>
<text class="t" x="508.9" y="983.9" font-size="36" text-anchor="middle">3</text>
<text class="t" x="634.8" y="983.9" font-size="36" text-anchor="middle">4</text>
<text class="t" x="760.6" y="983.9" font-size="36" text-anchor="middle">5</text>
<text class="t" x="886.5" y="983.9" font-size="36" text-anchor="middle">6</text>
<text class="t" x="1012.4" y="983.9" font-size="36" text-anchor="middle">7</text>
</g>
<g id="right3">
<g clip-path="url(#cr3)">
<g clip-path="url(#cb3)"><g transform="translate(1248.0 686.30) scale(.25)" fill-rule="evenodd"><path fill="#f0f0f0" d="M174 982l-88 3-20-8-12-15-3-20 4-28 14-144 9-52 10-36 13-100 9-32 23-52 21-59 4-5 12 1 8-2 17-15 13-28 8-28 22-24 6-12 0-8-8-12 1-4 21-25 11-11 21-10 16-11 44-45 4-2 20 15 8-1 16-8 11-10 16-24 57-44 36-24 2-4-1-8 4-4 63-14 94-10 262-13 16 1 16 8 11 16 2 20-4 24-16 148-23 140-15 44-21 44-14 52-12 32-16 32-8 24-27 48-21 25-4 3-16-1-8 5-10 12-5 16-35 32-62 25-24 14-34 33-26 38-12 2-23 24-32 20-4 8 0 8-7 4-32 8-66 11zM290 326l10-8 9-12 5-12-2-4-6 0-8 4-18 16-4 8 1 8 5 3z"/><path fill="#e2e2e2" d="M134 982l-40 2-16-2-16-11-8-13-2-16 5-24 16-156 8-44 11-36 6-53 10-43 6-15 16-21 4-40 20-48 8-10 20-8 8-7 12-15 12-24 16-10 4-14 1-20 11-17 12-12 8 5 8 16-41 48-3 8 20-4 21-16 11-17 1-7-4-12 31-32 13-20 3-8-4-6-8-2-32 10-16 17-8 4-6-7 6-13 8-6 16-2 23-27 32-20 5-12 8-8 4 0 4 4-2 16 3 8 3 2 8-3 17-23 34-28 23-28 18-12 20-8 20-20 38-20 10-12 16-8 44-10 56-6 272-16 20 2 16 9 9 13 2 20-4 24-16 144-25 136-6 19-48 105-3 36-9 27-13 25-11 29-28 47-12 11-20 6-12 8-48 55-44 18-36 21-56 49-20 15-31 37-41 20-7 8-3 8-13 8-70 16zM154 534l4-2 8-12 10-26 13-24 1-8-4-7-4 0-4 4-5 11-16 44zM707 766l15-7 4-5 0-4-10 0-13 8-3 4 1 4zM514 910l8-2 12-7 8-7 3-8-3-3-8 0-16 7-9 12 1 6z"/><path fill="#d4d4d4" d="M110 982l-24 0-16-6-12-12-5-18 21-177 21-91 8-56 7-19 11-21 10-12 19-15 17-25 29-64 1-20 5-10 8-9 44-23 20-18 13-16 7-28 8-12 24-29 8-5 12-2 9-8 2-8-3-7-16 2-16-8-8 0 0-5 24-8 16 8 8-3 16-15 21-28 31-24 19-24 33-15 31-29 43-20 18-15 11-5 33-8 60-7 260-16 20 2 16 9 8 12 2 20-5 24-17 148-24 118-23 62-37 80-6 20-1 28-5 16-24 55-24 40-8 6-28 12-36 33-24 6-23 12-10 8-20 24-51 41-36 24-24 21-28 8-16 8-20 28-24 14-8 16-14 8-30 8-60 6zM250 358l-4 0 0-8 4-6 6-2 3 4-1 4zM146 517l-4 0 0-11 4-11 8-12 2 3-1 12zM775 662l8-8-1-7-8 4-4 7 0 5z"/><path fill="#c6c6c6" d="M170 978l-72 4-16-2-18-10-9-16 0-12 5-28 16-144 21-88 9-56 24-44 24-26 17-26 17-40 16-28 1-16 5-8 44-27 29-29 11-16 15-36 17-19 20-8 12-11 6-10 3-20 21-24 14-20 13-12 23-13 20-2 3-5-2-12 3-4 27-16 32-32 47-20 22-16 22-8 70-10 256-16 20 2 14 8 10 16 1 16-5 24-18 148-22 98-29 86-25 48-30 64-1 8 6 12-1 10-13 26-7 24-20 37-8 7-28 13-32 28-32 12-32 19-25 28-39 34-40 22-26 24-44 20-22 26-27 14-4 4-8 16-13 8-24 6-52 6zM771 674l19-9 9-7 2-16-7-11-4-1-8 5-19 23-4 16 3 2z"/><path fill="#bababa" d="M154 978l-56 3-16-1-17-10-6-8-4-12 23-184 21-84 11-55 24-45 21-24 20-28 23-50 8-9 20-5 9-8 5-12-8-8 0-4 26-20 29-32 35-56 16-5 8-8 21-27 3-20 4-7 20-21 13-20 9-8 14-8 8-2 12 2 8-4 8-8 10-20 19-16 21-24 10-8 52-20 21-16 11-5 68-11 260-17 20 2 13 7 9 12 3 16-24 176-21 82-16 43-14 55-46 83-16 35-12 18 0 5 8-2 6 5-2 12-12 13-12-1-12 9-16-5-8 4-24 32-10 28 2 3 4-1 40-13 10-9 10-19 8-6 3 1 0 8-15 31-28 15-36 30-24 10-40 23-61 59-45 24-26 24-44 22-24 26-30 16-11 20-14 8-21 5-56 7z"/><path fill="#b0b0b0" d="M142 978l-48 3-16-3-16-12-6-16 22-180 36-143 23-45 24-28 19-28 18-41 8-8 24-10 17-17 7-12 6-16 12-20 24-28 18-27 24-17 8-8 26-36 2-20 4-8 22-20 12-20 10-8 8-3 8-1 8 4 12-7 13-13 10-20 49-48 57-20 19-16 10-4 70-12 252-16 16 0 16 8 11 16 1 16-5 24-19 146-16 62-22 60-14 56-8 19-40 65-12 28-17 20-15 29-8 7-12-1-8 5-24 36-23 48-1 9 16-15 12-7 20-3 0 4-3 4-29 25-16 5-56 35-34 35-27 24-45 24-26 23-40 21-24 24-36 20-6 8-2 8-8 8-24 8-52 6zM430 242l13-12-1-11-16 8-9 11 1 4 4 2z"/><path fill="#a7a7a7" d="M126 978l-32 2-16-3-16-13-5-18 24-180 33-117 25-63 48-64 15-34 6-6 22-11 24-20 8-13 10-28 7-12 41-48 26-20 20-30 16-13 19-5 5-4 4-8-4-6-16 9-4 0-3-3-1-4 3-8 13-8 4-1 8 7 4 0 28-17 7-9 9-20 19-20 11-20 23-20 18-24 17-8 48-13 24-19 52-12 144-12 128-8 16 2 12 7 9 11 3 16-26 176-18 63-23 57-16 64-44 72-12 24-18 20-13 24-6 6-16 6-12 13-46 83-11 28-44 28-35 36-23 20-45 25-29 23-39 24-24 21-41 23-4 4-6 16-9 6-64 11z"/><path fill="#a1a1a1" d="M114 978l-24 1-17-5-12-12-4-20 6-28 19-148 28-95 20-41 13-44 53-68 12-28 42-29 11-11 7-12 10-31 8-12 28-25 14-20 24-20 18-26 41-22 15-24 27-24 11-24 21-20 10-20 27-20 9-20 15-9 76-18 5-5 0-8 5-4 42-11 268-20 16 2 12 7 8 11 3 15-27 176-16 53-28 67-17 68-55 90-20 19-23 15-21 32-13 28-36 64-11 24-40 25-55 51-74 48-59 43-32 21-25 12-4 4-2 16-6 4-63 12zM552 158l13-8 3-4-2-5-4-2-8 0-8 3-9 8 1 4 4 3z"/><path fill="#9b9b9b" d="M102 978l-16 0-16-7-10-13-2-16 5-24 13-104 9-52 25-80 24-48 16-52 12-17 49-55 10-20 43-36 7-12 11-32 7-12 9-8 20-9 14-27 42-42 28-15 16-14 16-25 25-24 16-28 27-18 23-2 13-14 40-20 20-6 0-4-16 0-20-13-20 5 0-4 90-24 7-4 3-12 3-4 25-8 118-12 154-10 16 2 12 7 8 13 2 16-6 24-13 104-9 44-18 55-27 61-20 72-53 88-16 14-25 14-12 12-17 32-10 28-13 20-35 64-92 61-27 31-49 29-40 33-28 12-19 18-41 20-1 4 5 8-8 6-52 12zM510 178l-4 2-2-6 4-4 6-2 2 2zM703 678l7-9-4-2-4 3-2 4z"/><path fill="#959595" d="M154 974l-68 3-16-7-10-16-1-12 6-28 13-104 10-52 26-74 40-82 1-16 3-8 12-15 56-52 7-25 38-32 9-16 14-32 5 0-5 12 2 8 6 2 10-6 4-8 1-16 23-24-1-16 5-8 22-20 24-8 8-6 32-38 13-20 30-28 5-12 7-8 13-5 20-2 39-17 14-20 27-11 14-13-1-4-4-4-21-3-1-5 6-4 27-6 25-10 6-4 4-12 5-5 27-7 61-7 192-14 18 1 14 8 8 12 1 16-6 28-14 100-9 43-19 53-28 64-23 72-25 48-28 40-9 8-34 20-12 12-17 32-5 21-8 14-12 8-12-6-8 2-19 17-5 12-1 16 3 8 10 12-4 8-32 21-28 5-12 6-33 32-2 16-8 12-18 12-31 15-19 21-13 10-32 10-24 20-24 13-27 11-1 4 3 8-1 4-7 4-33 8z"/><path fill="#8f8f8f" d="M138 974l-40 3-16-2-15-9-7-16 21-144 9-44 15-44 45-96 8-11 24-21 7-24 24-32 26-28 4-20 29-24 18-20 26-16 10-12 8-17 26-23 1-4-9-16 5-8 9-8 20-6 16-11 37-43 13-20 9-8 9-5 24-6 36-32 39-17 17-20 40-28 2-4-10-12 3-4 39-20 4-12 4-4 14-4 64-9 192-16 16 1 15 8 8 12 1 16-6 24-14 101-12 51-47 112-9 28-19 48-21 44-30 40-48 32-22 29-24 15-52 64-24 12-10 8-3 8 5 5 8 2 20-3 8 4 2 4-4 8-14 8-24 4-12 5-34 27-35 20-7 8 1 4 19 3 1 5-3 4-45 24-25 28-32 11-25 13-23 20-33 12-5 4 0 16-6 4-20 5z"/><path fill="#898989" d="M122 974l-28 2-16-3-13-11-4-16 21-139 10-45 18-47 19-29 25-61 36-33 26-50 10-14 24-22 10-24 34-33 43-35 21-27 35-21 5-12-7-12 35-40 31-28 10-12 31-18 36-30 32-14 22-18 19-20 35-20 4-8-5-8 0-4 5-4 16-7 28-5 4-4-13-12 6-4 62-12 189-16 16 1 14 7 8 12 1 16-6 24-15 104-12 44-33 72-29 75-8 11-12 4-8 10-9 60-7 12-28 32-41 28-62 52-32 48-25 16-19 16-5 12 10 16-2 4-60 43-34 21-5 8 0 16-26 20-15 23-20 6-36 18-28 23-59 18-2 4 15 4 5 4-1 4-7 4-90 12z"/><path fill="#838383" d="M110 974l-20 1-15-5-9-9-5-15 23-136 11-48 15-35 28-41 21-56 7-9 29-23 33-64 27-24 15-28 27-28 45-37 22-27 28-16 13-12 7-12-1-16 15-21 16-13 16-4 12-6 8-8 13-20 11-12 16-9 16-3 8-5 21-23 36-28 19-19 45-21 14-20 31-20-3-12 4-4 37-9 100-11 96-7 12 1 12 6 8 10 3 14-23 132-16 51-32 65-12 32-40 53-18 35-34 42-22 22 1 8 16 8-4 8-46 32-29 27-52 31-12 11-7 11 0 16-4 8-32 32 1 4 9 12-3 8-10 8-22 12-24 20-45 24-6 8 0 12-3 4-30 19-8 17-8 8-28 15-28 22-69 23-4 4 1 4 6 8-30 8-40 6z"/><path fill="#7d7d7d" d="M102 974l-16 0-12-6-9-10-3-12 24-136 15-52 22-40 20-28 15-30 8-8 20-6 7-8 8-32 31-64 33-36 25-36 32-32 26-20 22-24 72-47 15-13 10-12 9-20 30-41 36-16 12-11 14-20 12-12 35-20 20-16 35-19 20-25 29-20 1-12 4-4 22-7 34-5 158-14 16 1 12 6 8 11 1 16-6 24-19 108-16 44-35 68-9 28-24 26-40 67-12 12-24 15-28 36-4 12 13 12-3 8-26 19-24 25-44 24-20 16-14 20-4 20-5 8-41 32-3 8 3 12-4 8-30 28-38 19-13 9-15 20-27 24-11 20-61 40-64 24-4 4-5 12-7 4-33 7-36 5z"/><path fill="#777777" d="M138 970l-52 3-14-7-7-12-1-16 6-20 20-113 16-43 20-27 9-21 25-40 7-8 23-13 12-15 14-48 6-11 18-21 8-24 30-32 15-24 29-32 28-21 33-31 55-36 40-29 16-24 32-23 8-20 26-24 20-28 46-24 48-34 24-30 32-20 3-12 4-4 11-4 46-8 144-13 16 1 12 6 8 14 0 12-6 24-10 64-10 40-6 17-51 103-9 22-22 26-42 66-28 20-16 17-25 37-4 28-19 24-14 12-34 17-16 12-29 35-11 28-28 18-16 14-8 12-3 16-18 20-15 12-57 32-15 14-20 13-8 9-5 16-7 9-8 4-24 5-12 5-5 5-2 12-4 4-49 24-13 16-8 4-68 12z"/><path fill="#717171" d="M122 970l-28 3-12-2-12-9-5-12 0-12 29-133 41-67 17-36 19-24 33-32 22-35 16-13 2-8-3-8 1-4 8-7 20-7 21-18 13-32-3-12 2-8 27-36 28-27 8-3 12-1 8-4 8-9 7-20 8-8 29-17 22-19 31-20 19-24 25-24 13-24 26-24 14-20 38-18 23-14 37-33 20-26 34-21 6-12 5-4 31-8 27-4 129-12 16 1 12 7 7 12 0 12-6 24-13 71-12 41-17 28-30 64-17 24-11 24-29 41-29 27-41 52-27 40-7 24-8 13-8 7-8 3 0-11-4-3-7 3-4 8 14 4-8 8-39 28-36 38-20 1-11 9-7 12-3 20-23 13-26 31-8 12-4 16-5 8-17 13-39 15-33 28-26 12-4 4-4 16-36 24-5 8-1 8-7 8-39 20-15 16-11 5-67 11zM270 535l-4 2-5-3 5-8 8-5 4 1 0 4z"/><path fill="#6b6b6b" d="M114 970l-24 1-14-5-9-12-1-16 6-20 14-70 11-38 25-31 35-69 57-65 52-39 9-24 8-12 11-9 32-18 36-35 22-42 6-24 8-10 8-4 6 2 1 8-11 20 4 2 4-2 10-20 18-24 8-20 25-36 39-36 35-40 13-24 24-17 24-4 12-7 9-20 35-24 16-20 23-24 11-16 41-24 7-12 6-4 24-7 34-5 114-11 16 1 11 6 7 12 0 12-7 24-15 76-12 35-19 29-29 60-23 28-17 32-16 16-14 20-30 26-48 71-8 6-12-5-8 1-14 9-4 8 0 12-3 8-22 24-8 24-29 32-8 4-8-5-8 2-24 22-16 10-38 59-9 8-29 17-18 31-86 60-8 8-10 20-30 24-4 16-4 4-39 20-15 16-10 4-39 8z"/><path fill="#656565" d="M102 970l-16 0-12-7-7-13 0-12 19-80 8-23 11-25 23-28 14-28 32-41 4-1 1 2-1 12 4 5 6-1 6-6 13-26-5-24 8-13 12-9 36-20 47-34 14-24 67-77 24-23 37-56 11-22 24-26 10-20 36-32 13-20 24-24 6-12 11-7 28-7 30-18 50-64 32-20 2-4-1-12 3-4 10-8 30-15 7-13 6-4 55-11 104-11 16 1 9 5 8 12 0 12-7 24-14 68-16 39-19 29-35 64-59 68-15 24-28 21-16 7-7 16-17 14-24 26-42 28-9 12-8 16-19 24-8 24-32 24-30 28-27 32-32 24-11 24-24 24-11 20-15 12-27 16-21 20-30 20-4 4-4 16-6 8-12 8-27 12-2 4 7 12-2 4-38 20-15 16-47 12z"/><path fill="#5f5f5f" d="M130 966l-32 3-12-1-12-6-6-12 0-12 22-82 8-17 23-37 25-29 40-22 31-41 28-20 6-8 7-24 24-28 28-22 24-11 15-11 7-16 46-52 20-46 24-39 28-37 32-23 24-8 22-15 8-20 24-24 36-28 15-24 26-28 12-20 9-11 39-29 29-16 8-8 3-8-4-12 26-16 5-16 18-8 49-8 87-9 12 1 8 4 8 12 0 12-8 24-12 56-8 22-48 83-32 42-28 21-16 30-8 5-8 1-4-8 1-12-5 1-22 31-14 24-25 24-11 20-8 5-20 4-14 11-9 12-9 18-18 18-14 28-8 7-12 3-8 6-20 36-24 29-4 4-6-1 7-20-5-3-4 1-24 12-30 30-12 16 3 16-2 4-19 9-8 8-14 27-17 20-5 20-28 33-8 7-28 13-25 15-8 8-5 16-34 24-2 4 2 4 9 8-2 4-27 15-7 13-14 8-36 8zM563 542l7-8 5-16 0-8-5-4-12 7-11 17 2 8 5 5 4 1z"/><path fill="#595959" d="M514 531l-2-5 2-20-2-12 4-12 30-39 24-8 44-41 13-16 4-12-5-3-8 3-32 14-20 14-8 2-12-6 2-8 22-21 24-11 23-20 7-12-4-16 1-4 33-48 20-21 28-14 20-19 16-10 2-12 30-28 13-24 18-16 2-16 18-8 20-4 97-12 12 0 12 6 7 10 0 12-26 88-29 52-29 40-11 9-20 5-8 5-28 31-16-1-16 8-12 1-8 6-6 8 10 4 0 8-4 9-8 8-20 10-22 29-14 9-1-5 14-44 2-20-2-12-4-4-9 2-24 31-32 18-52 52-32 23-27 34-13 27zM458 454l-4 1 0-5 8-9 2 5zM610 490l-3-4 2-4 9-5 1 5zM414 542l-5-4 1-8 12-17 4-4 3 1 3 8-2 12-6 8zM118 966l-24 2-12-2-12-12-1-12 25-85 8-13 21-22 14-24 9-6 20-6 12-8 47-60 29-20 28-16 16-26 8-8 16 0 12-6 6-8 6-16 76-57 8-3 36-1 8 13 4 1 12-4 16-10 3 1 1 4-4 10-20 22-8 5-24 8-32 28-32 58-22 25-1 4 9 16-11 40-46 52-17 10-11 10-13 28-20 20-6 16-11 16-1 12-4 4-23 8-22 4zM314 632l-4-2 4-3 2 3z"/><path fill="#535353" d="M742 330l-4 1-4-5 12-28-2-16 4-20-1-12-9-13-4-1-12 3-4-1-1-4 6-8 15-6 26-34 12-24 14-16 6-20 20-20 2-16 20-8 100-15 12 1 12 5 5 9 1 12-26 78-8 15-19 23-17 31-8 6-8 1-12-16-4 1-23 21-17 25-8 4-20 1-12 3-12 9-20 26zM787 262l2-4-3-3-7 3-3 4 2 4zM382 631l-8 1-2-2 8-12 14-8 28-8 2 4-8 8zM106 966l-12 1-12-2-8-7-4-12 16-55 16-37 12-12 29-20 35-30 36-40 24-12 5-6 7-16 8-8 24-9 24-14 8-1 7 4 4 8-5 8-26 22-16 4-5 6 1 5 9 11 1 20 5 8 17 8 12 0 2 4-35 32-29 40-16 40-13 20-1 16-12 8-14 4z"/></g></g>
<path class="bl" stroke-width="9.0" d="M1267.6,914 1268,874 1269.6,864 1274.4,864 1274.4,842 1281.6,842 1281.6,830.4 1307.6,830.4 1307.6,819 1313.6,819 1313.6,796 1322,796 1322,785 1334,785 1334,774 1346,774 1346,763 1349.6,763 1349.6,751 1354,751 1354,740 1373,740 1373,728.4 1378,728.4 1378,717 1432.4,717 1432.4,705.8 1483.6,705.8 h4.7"/>
</g>
<path class="tk" d="M1267.6 942.6v-14.5M1267.6 684.3v14.5M1246 921.1h14.5M1504.8 921.1h-14.5M1310.8 942.6v-14.5M1310.8 684.3v14.5M1246 878h14.5M1504.8 878h-14.5M1354 942.6v-14.5M1354 684.3v14.5M1246 834.9h14.5M1504.8 834.9h-14.5M1397.2 942.6v-14.5M1397.2 684.3v14.5M1246 791.9h14.5M1504.8 791.9h-14.5M1440.4 942.6v-14.5M1440.4 684.3v14.5M1246 748.8h14.5M1504.8 748.8h-14.5M1483.6 942.6v-14.5M1483.6 684.3v14.5M1246 705.7h14.5M1504.8 705.7h-14.5"/>
<text class="t i" x="1490.6" y="876.8" font-size="28.8" text-anchor="end">AUC</text>
<text class="t i" x="1494" y="910.3" font-size="28.8" text-anchor="end">0.778*</text>
<rect class="sp" x="1246" y="684.3" width="258.8" height="258.3"/>
<text class="t" x="1236.3" y="931.3" font-size="29" text-anchor="end">0.0</text>
<text class="t" transform="translate(1267.6 953.1) rotate(-90)" x="0" y="10.6" font-size="29" text-anchor="end">0.0</text>
<text class="t" x="1236.3" y="888.2" font-size="29" text-anchor="end">0.2</text>
<text class="t" transform="translate(1310.8 953.1) rotate(-90)" x="0" y="10.6" font-size="29" text-anchor="end">0.2</text>
<text class="t" x="1236.3" y="845.1" font-size="29" text-anchor="end">0.4</text>
<text class="t" transform="translate(1354 953.1) rotate(-90)" x="0" y="10.6" font-size="29" text-anchor="end">0.4</text>
<text class="t" x="1236.3" y="802.1" font-size="29" text-anchor="end">0.6</text>
<text class="t" transform="translate(1397.2 953.1) rotate(-90)" x="0" y="10.6" font-size="29" text-anchor="end">0.6</text>
<text class="t" x="1236.3" y="759" font-size="29" text-anchor="end">0.8</text>
<text class="t" transform="translate(1440.4 953.1) rotate(-90)" x="0" y="10.6" font-size="29" text-anchor="end">0.8</text>
<text class="t" x="1237.2" y="715.9" font-size="29" text-anchor="end">1.0</text>
<text class="t" transform="translate(1483.6 953.1) rotate(-90)" x="0" y="10.6" font-size="29" text-anchor="end">1.0</text>
</g>
<g id="left4">
<g clip-path="url(#cl4)">
<path d="M139 1022.7v258.3h16v-258.3zM160 1022.7v258.3h16v-258.3zM252.2 1022.7v258.3h3.6v-258.3zM286 1022.7v258.3h7.4v-258.3zM349 1022.7v258.3h11.6v-258.3zM370 1022.7v258.3h20v-258.3zM403.6 1022.7v258.3h36.4v-258.3zM466.4 1022.7v258.3h3.4v-258.3zM479 1022.7v258.3h7.6v-258.3zM491.6 1022.7v258.3h11.8v-258.3zM512.6 1022.7v258.3h11.6v-258.3zM558.6 1022.7v258.3h7.6v-258.3zM584 1022.7v258.3h11.8v-258.3zM609 1022.7v258.3h20.4v-258.3zM634 1022.7v258.3h3.6v-258.3zM655 1022.7v258.3h3.6v-258.3zM735 1022.7v258.3h24.4v-258.3zM773 1022.7v258.3h7.6v-258.3zM794 1022.7v258.3h3.4v-258.3zM819 1022.7v258.3h7.6v-258.3zM865 1022.7v258.3h12v-258.3zM899 1022.7v258.3h11.6v-258.3zM928 1022.7v258.3h3.6v-258.3zM1003.8 1022.7v258.3h3.4v-258.3zM1012.2 1022.7v258.3h11.8v-258.3zM1041.6 1022.7v258.3h45.2v-258.3zM1113 1022.7v258.3h6v-258.3z" fill="#999999"/>
<path class="bl" stroke-width="8.7" d="M129.4,1200 133,1190 137,1176 140.6,1171 145,1179 150,1183 154,1187 157,1198 162,1200 166,1193 170.6,1192 174.6,1201 178.6,1192 180.6,1172 183,1162 186,1174 188.6,1186 191,1195 195,1189 199.4,1194 204,1192 208,1187 212,1183 217,1185 220,1197 224.6,1194 228,1205 233,1210 237,1201 241,1192 246,1198 249,1186 254,1182 258,1190 262.6,1200 266.6,1190 271,1196 276,1190 280,1182 283.4,1171 288.6,1176 291,1194 293.4,1209 296,1216 300,1208 305,1208.4 309,1213 313,1218.4 317,1213 322,1205 326,1199 329.4,1194 334,1191 338.6,1195 343,1192 345,1174 347.4,1154 350.6,1145 355,1148.4 358,1160 362,1174 365,1185 367.4,1192 372,1190 375.4,1179.6 380,1187 383,1201 387,1205 392.6,1209 397,1205 401,1201.6 409,1200 413,1194 417.4,1189 421,1192 425,1194 429,1191 434,1201 439,1201.6 444,1199.6 448,1198 451,1187 455,1190 459,1199 464.6,1199.6 467,1184 469.4,1162 472.6,1150 475.4,1164 478,1178 481,1183.6 485,1177.6 489,1185 493.4,1191 498,1189 501,1175 506.6,1181 510,1194 514,1194.4 518.6,1194.6 522.6,1192.4 527,1193.6 531,1201 534.6,1197 539,1201.6 542,1186 547.4,1185 551,1192 556,1195 559,1179 565,1179 569,1189 573,1194 577.4,1195.6 582,1186 586,1177 590.6,1181 594,1191 598,1198 602.6,1200 607,1192 611.4,1184 618,1184.4 623,1179 627.4,1174 632.6,1173.6 636,1182 640,1194 644.6,1203.6 649.4,1202 653,1191 657,1180 661,1190 666,1202 670.6,1201.6 675,1194 679,1184 683,1175 686.6,1167.6 690,1178 694,1202 698,1206 703,1214 707.4,1219 711.4,1217.6 716,1218.4 720.6,1216.4 724,1208 728,1196 732,1191 737,1190 741,1182 745,1185 750,1182 754,1174 758,1175 762,1180 766.6,1191 772,1188 778,1186 783,1189 787,1195 791.4,1199 795.4,1192 799.4,1182 804,1173 808,1168 811,1175 815,1186 820,1196 824,1202 830,1204 832.6,1182 838,1181.6 841.4,1187 846,1187.6 850,1199.6 854.6,1194 863,1194.4 867,1185 871,1191 875,1187 880,1187.6 883.4,1175 888.6,1176.4 891.4,1190 895,1199 901,1204 905,1212.4 909,1201 913,1206 918,1203 921,1192 926,1187.6 930,1170 935,1180 938,1193 942.6,1185.6 946.6,1191.6 951,1188 955,1196 959,1197 963,1195 968,1198 973,1200 977,1201 981,1203.6 984.4,1209 989,1204 993,1197 997,1199 1000,1184 1003,1177.6 1007,1176.4 1012,1178.4 1015,1186 1018,1195 1022,1192 1026.4,1192.4 1030,1184 1035,1188 1039,1198.4 1042.4,1192 1047.6,1193.6 1051.6,1202 1056,1194 1060,1188 1064,1195 1069,1198.4 1073,1199 1076,1186.4 1081,1187 1085,1185.6 1089.6,1189 1093.6,1204 1098,1199 1101.6,1189.6 1106,1188.4 1110,1183 1115,1184.4 1119,1188.4"/>
</g>
<path class="tk" d="M254.4 1281v-14.5M254.4 1022.7v14.5M380.2 1281v-14.5M380.2 1022.7v14.5M506.1 1281v-14.5M506.1 1022.7v14.5M632 1281v-14.5M632 1022.7v14.5M757.9 1281v-14.5M757.9 1022.7v14.5M883.7 1281v-14.5M883.7 1022.7v14.5M1009.6 1281v-14.5M1009.6 1022.7v14.5M132.4 1259.5h14.5M1118.8 1259.5h-14.5M132.4 1216.4h14.5M1118.8 1216.4h-14.5M132.4 1173.3h14.5M1118.8 1173.3h-14.5M132.4 1130.2h14.5M1118.8 1130.2h-14.5M132.4 1087.1h14.5M1118.8 1087.1h-14.5M132.4 1044.1h14.5M1118.8 1044.1h-14.5"/>
<rect x="140" y="1024.4" width="266" height="59.9" rx="3" fill="#fff"/>
<text class="t b" x="149.2" y="1066.1" font-size="43.2">thing.n.12</text>
<rect class="sp" x="132.4" y="1022.7" width="986.4" height="258.3"/>
<text class="t" x="122" y="1269.7" font-size="29" text-anchor="end">0.0</text>
<text class="t" x="122" y="1226.6" font-size="29" text-anchor="end">0.2</text>
<text class="t" x="122" y="1183.5" font-size="29" text-anchor="end">0.4</text>
<text class="t" x="122" y="1140.4" font-size="29" text-anchor="end">0.6</text>
<text class="t" x="122" y="1097.3" font-size="29" text-anchor="end">0.8</text>
<text class="t" x="122.9" y="1054.3" font-size="29" text-anchor="end">1.0</text>
<text class="t" x="257.2" y="1322.2" font-size="36" text-anchor="middle">1</text>
<text class="t" x="383" y="1322.2" font-size="36" text-anchor="middle">2</text>
<text class="t" x="508.9" y="1322.2" font-size="36" text-anchor="middle">3</text>
<text class="t" x="634.8" y="1322.2" font-size="36" text-anchor="middle">4</text>
<text class="t" x="760.6" y="1322.2" font-size="36" text-anchor="middle">5</text>
<text class="t" x="886.5" y="1322.2" font-size="36" text-anchor="middle">6</text>
<text class="t" x="1012.4" y="1322.2" font-size="36" text-anchor="middle">7</text>
</g>
<g id="right4">
<g clip-path="url(#cr4)">
<path d="M1368,1214 1376,1208 1384,1207 1398,1198 1404,1192 1414,1190 1428,1180 1436,1172 1440,1154 1447,1152 1448,1134 1452,1126" fill="none" stroke="#c6c6c6" stroke-width="2.2" stroke-linejoin="round"/>
<path d="M1286,1194 1288,1188 1289,1176 1294,1172 1298,1169 1300,1162 1308,1158 1312,1152" fill="none" stroke="#c6c6c6" stroke-width="2.2" stroke-linejoin="round"/>
<g clip-path="url(#cb4)"><g transform="translate(1246.0 1022.65) scale(.25)" fill-rule="evenodd"><path fill="#dcdcdc" d="M98 962l-16 0-8-7-2-9 14-84 10-36 12-20 4-28 6-15 12-17 16-13 4-7 1-12 19-21 28-49 8-8 8-3 10-11 20-36 13-16 17-12 4-2 8 3 4-2 8-11 5-16 7-11 4-4 8 0 14-13 6-16 9-12 7-20 20-26 12-10 1 4-7 16-15 20-2 4 3 2 21-18 43-61 17-15 19-10 16-18 12-8 12-16 18-12 13-16 4-12 17-18 56-28 29-30 23-16 1-8 3-4 28-17 8 2 12-4 19-13-19 0-16 7-2-3 1-4 5-4 136-51 42-9 58-6 8 0 8 5 3 13-11 78-15 54-9 13-2 11 2 8-4 10-15 18-17 33-35 43-9 20-13 12-9 16-10 10-22 14-23 28-7 14-8 5-8 12-8 2-11 7-1 5 8-1 0 4-10 8-9 12-17 40-20 21-12 1-14 10-5 8-2 12-19 22-1-10-3-2-27 22-6 12 13-4 0 4-2 8-6 7-20 13-8 12-19 20-17 7-4-3 19-12 2-12 11-8 3-8-11-1-20 6-13 15-2 8-6 8 0 8-15 16-4 12-6 8-10 6-8-4-4 1-7 9 0 8-17 14-4 3 0-5-4-3-4 3-1 8-3 3-16 4-13 17-33 16-5 4-4 12-5 4-16 12-12 5-60 47-71 20zM486 341l-5-3 1-4 8-6 3 2zM685 566l8-8 4-12-3-1-8 6-9 15 1 2zM575 678l12-12-3-8 1-8-3-2-8 10-6 20 2 3zM534 710l-4 2-2-2z"/><path fill="#c6c6c6" d="M94 962l-8 0-9-4-4-8 0-8 13-74 12-41 12-21 4-28 8-18 26-26 10-24 12-12 12-18 12-12 10-2 9-8 3-8 10-13-16 9-12 15-3-3 3-8 16-12 10-12 20-28 14-24 8-6 16-2 8-6 10-14 10-20 12-7 14-13 22-35 12-3 21-18 24-32 15-24 12-5 7-15 21-12 12-12 16-11 18-21 19-16 29-40 54-27 32-32 39-21-3-8 8-8 24-7 29-13 29-20 3-8 5-4 46-20 45-12 31-5 44-5 8 2 4 3 3 13-15 90-25 58-5 24-20 36-40 56-13 24-17 16-9 16-27 20-12 16-22 20-10 16-23 16-17 29-26 23-12 16 1 12-24 24-7 21-8 4-4-5-4 1-12 12-20 14-2-3 6-12-4-2-4 3-20 23-14 20-6 4-16 5-14 15-14 20-1 12-19 26-12-2-8 4-14 16 0 8-6 5-5-1 1-8-3-4-5 2-3 10-8 8-1 4-27 20-1 4-6 4-30 16-8 8-5 12-30 16-57 48-16 1-61 19zM746 134l-9 0 14-8 10 0zM362 461l-1-7 13-16 3 4zM271 586l-1-4-2 4zM484 746l4-4-2-2-8 6zM246 926l6-4 1-4-3-2-6 2-3 4z"/><path fill="#b0b0b0" d="M90 962l-12-4-5-8 0-8 13-70 15-46 11-20 6-34 35-42 7-16 22-30 35-26 17-28-6-4 2-4 22-28 6-13 4-5 2 2-5 12 3 7 4-1 10-10 6-16 15-16 13-22 8-4 23-26 10-12 6-12 13-6 27-26 24-32 9-17 4-3 8 0 4-5 6-15 18-9 28-23 39-40 29-36 5 0-1 7 12-3 5-4-1-2-8 1-7-3 46-24 33-32 38-20 4-4 3-12 3-2 52-21 31-21 9-12 36-16 56-17 68-9 8 2 4 4 3 12-15 86-28 62-10 32-16 28-12 12-34 56-5 12-17 16-10 16-20 14-19 22-20 16-12 20-22 16-18 28-23 20-16 20-2 12-9 12-11 10-20 11-12 19-4 2-1-2 4-8-2-4-9 3-52 56-4 2-8-1-32 39-13 9-10 12-12 8-3 8-14 17-4 3-8-2-8 2-12 15-13 9 1 8-3 4-16 8-37 29-16 20-32 16-16 3-4 5 10 3-23 16-11 10-4-7-8-1-16 10-4 8-42 16-34 8z"/><path fill="#a7a7a7" d="M122 958l-36 4-8-4-5-12 13-71 16-46 11-23 5-29 4-5 0 14 4 5 5-9 5-28 46-66 38-30 18-28 12-29 4-3 5 8 3 0 16-18 7-18 21-27 16-9 7-16 33-36 38-36 18-25 4-4 12-4 18-27 4-12 26-16 4 6 11-6 4-4 1-8 4-8 44-48 8-7 29-13 6-8-4-4 2-4 34-20 29-29 36-19 5-4 6-12 7-4 42-18 36-23 8-3 24-19 24-7 20-8 40-10 44-5 8 0 8 5 2 12-14 83-30 65-14 40-13 20-12 12-23 40-18 20 2 4-4 8-12 11-12 17-20 17-18 19-18 14-14 22-21 16-17 26-25 22-17 20-3 12-9 12-14 9-4-1 0-12-4 1-5 7-1 12-3 4-19 7-40 45-24 12-32 39-14 9-9 12-13 9-8 15-8 9-16 2-8 5-9 12-15 12 0 8-4 5-20 8-8-1-5 12-35 36-24 12-20 5-15 11 0 4-6 4-23 9-26 19-14 6-52 18zM612 602l2-6-4 1-3 5 3 2zM394 806l5-4-1-4-7 4zM332 850l7-8-1-2-6 2-7 8z"/><path fill="#a1a1a1" d="M118 958l-32 3-8-4-5-11 9-52 12-41 15-35 22-32 11-36 24-30 16-25 16-8 7-13 17-16 28-47 8 2 8-6 14-17 10-24 12-14 23-18 11-20 18-13 22-23 10-16 25-20 7-15 4-3 8-1 24-33 7 4-9 12 2 5 18-13 15-20 0-8 18-16 4-8 1-8 24-28 56-40 6-8 1-8 36-24 17-20 43-24 15-16 42-20 24-16 20-9 23-19 21-5 24-12 24-7 60-9 8 0 7 5 3 12-14 79-34 73-10 33-44 57-8 6-9 20-12 12-2 4 5 4-1 4-21 24-56 51-14 21-19 16-28 36-20 16-19 21-20 4-16 19-8 0-4 3-7 9 0 8-2 4-39 45-24 12-32 37-24 18-28 37-12 2-11 5-14 16-11 7-8 1-7 4-29 30-28 10-24 23-9 5 5 1 4-3 16-4 20-18 4-1-4 7-20 18-14 8-14 2-28 15-13 11-55 33-48 18zM478 375l-4 2-4-3 1-4 7-4 4 4zM798 402l8-8 0-5-4-1-7 6-1 4 2 4zM646 586l-4 1-1-5 5-6 4 0 2 2z"/><path fill="#9b9b9b" d="M114 958l-24 3-8-1-6-6-2-11 11-57 9-30 20-42 12-14 9-18 10-32 26-32 11-17 12-7 9-8 6-12 16-16 25-38 8 0 15-14 11-16 10-26 8-9 31-25 5-13 8-5 8 3 10-13 4-12 13-12 9-13 16-7 9-12 11-7 16-27 4-3 4 7 4-1 21-17 12-16 8-16 24-20 2-4-4-4 1-4 16-20 12-9 16-8 13-15 21-16 12-16 29-20 7-12 10-8 60-34 5-6 18-12 21-10 20-14 16-7 24-19 20-5 23-13 26-8 63-9 11 5 3 12-14 75-28 63-12 21-4-1-4 3-6 15 2 3 5 1 0 4-17 24-20 23-12 10-14 27-14 16-2 4 3 4-13 18-8 5 0-3 9-12-1-5-12 0-6 5-13 20 7 2 12-5 2 3-2 4-16 17-20 10-29 41-18 16-25 30-32 24-24 13-12 15-12 5-18 21 0 8-34 41-8 5-3-2 0-8-5 3-6 13-32 36-35 28-19 26-24 11-19 19-17 7-16 13-20 20-27 12-21 18-17 10-6 12-6 4-31 16-11 12-33 20-45 20zM775 418l5-4-2-2-4 1-5 5z"/><path fill="#959595" d="M110 958l-24 3-8-4-4-7 11-64 13-36 19-36 32-48-3-9 8-15 28-36 23-20 7-12 15-16 15-23 8-6 16-7 8-7 13-21 11-32 36-29 16-3 4-3 5-13 13-16 5-12 25-15 22-21 18-29 8 1 24-21 24-34 29-25-3-8 1-4 13-16 24-13 18-19 32-24 3-8 9-8 18-13 12-2 4-3 8-10 3-8 8-8 25-13 20-7 16-18 56-31 20-16 28-9 22-14 27-8 55-8 8 0 7 4 2 12-5 35-8 36-8 21-24 48-18 20-10 20 4 8-11 20-29 28-24 39-32 20-13 17-16 12-3 8 4 2 12-7 12-1-2 6-10 8-16 5-16 26-20 9-2 4 3 8-3 4-26 23-12 14-8 4-8 11-32 20-16 17-12 6-29 29-2 12-3 4-18 19-8-3-4 2-17 26-27 28-60 54-36 23-10 11-25 16-13 17-34 19-38 27-12 15-33 18-10 12-33 20-44 20zM541 338l5-4 4-9-4 0-12 13z"/><path fill="#8f8f8f" d="M106 958l-24 1-6-5-2-8 12-59 12-33 40-67 14-13 3-8 0-16 6-12 43-48 38-48 8-3 24-20 22-29 2-20 4-8 32-25 12-1 8-5 11-21 13-12 9-4-2-8 19-12 22-19 12-21 4-4 8 0 11-16 18-16 23-28 20-20 27-16 18-32 17-20 14-11 18-9 7-8 1-8 5-4 29-14 13-14 11-16 47-20 8-8 1-4 1 8 7 0 6-8-7-4 4-4 31-16 34-25 28-11 26-16 27-8 51-8 8 0 6 4 3 12-13 66-10 26-25 48-13 12-12 21-16 20-5 11 4 4 0 4-19 20-25 40-27 17-35 35-4 8-1 12-6 16-6 7-16 4-21 13-2 4 2 4 10 0 1 4-4 4-18 10-12-1-9 7-12 12-12 24-31 27-12 7-33 34-11 20-8 6-8-1-4 3-32 44-8 6-8 1-8 5-8 16-8 10-28 22-20 10-11 14-13 8-10 12-27 16-24 24-47 30-24 22-34 20-11 12-32 20-42 20zM691 210l6-4-7 0-1 4zM534 331l-4-1 12-14 3 2-2 4zM786 422l-4 2 0-2zM315 578l11-12 0-5-8 4-9 9 1 6z"/><path fill="#898989" d="M102 958l-20 1-7-9 11-59 16-40 36-58 12-11 8-12 8-29 4-5 0 6 4 3 9-7 1-4-3-8 2-4 39-52 24-18 49-54 23-16 40-52 11-20 17-10 13-18 27-23 12-16 16-8 8-9 0-8 3-4 41-40 15-20 26-16 27-31 16-1 21-16 7-8-28 5 0-5 3-4 29-13 8 3 12-5 8-9 1-16 15-13 4-2 4 5 4 1 8-5 19-18 5-12 4-4 28-11 15-9 6-4 4-12 15-8 17-16 47-24 16-12 21-8 36-8 31-4 10 4 3 12-13 62-8 22-16 31-20 19-8 20-24 32-15 34-17 27-13 13-3 7-24 18-40 43-12 35-7 1 5-12-2-6-4 1-13 21-28 16-7 16-22 20-38 48-20 13-44 46-12 5-13 16-7 13-24 28-12 5-11 10-16 24-9 5-12 12-24 13-40 39-16 8-21 15-13 16-42 26-20 20-21 14-23 12-12 12-37 24-33 16zM314 563l-4 2-1-3 9-7 3 3zM195 730l15-12 2-4-2-2-17 18z"/><path fill="#838383" d="M102 958l-16 2-8-5-3-5 7-39 8-29 12-26 28-46 12-12 35-48 21-16 20-20 4-16-16 8-3-4 2-4 9-12 16-11 16-15 40-49 38-29 18-21 20-30 4-4 16-4 4-5 3-16 19-24 18-14 12-14 12-7 17-17 7-16 32-30 19-26 38-24 11-14 12-4 28-20 37-34 11-20 12 0 23-16 27-24 5-8 39-24 9-12 27-24 14-5 48-31 20-8 60-12 8 1 5 3 4 8-5 29-8 33-8 22-16 30-22 22-10 24-16 18-12 22-12 16-3 12-5 9-31 27-12 20-61 62-19 26-25 14-5 6-7 16-28 29-4 3-8 1-16 31-16 7-40 42-16 9-12 15-14 11-4 12-10 11-36 34-16 9-12 22-20 11-48 44-42 29-9 12-37 23-16 17-30 20-30 16-34 28-30 16-28 8zM674 246l-4-2-2 2 2 4zM619 554l10-12-3-2-9 6-2 8z"/><path fill="#7d7d7d" d="M98 958l-16 0-5-4-2-8 15-59 28-55 28-30 11-20 26-32 40-36 20-44 39-50 12-8 8-10 39-28 7-8 14-29 24-11 9-16-1-8 12-10 7-14 33-25 40-45 19-18 17-27 30-21 34-14 13-22 27-18 28-29 4-3 12-1 26-25 23-12 24-32 24-16 19-19 20-16 74-45 25-8 41-7 8 0 5 3 3 12-8 41-14 39-14 26-24 26-8 17-16 18-39 65-17 15-8 2-4-6-4 3-9 34-11 11-20 10-7 11 3 4-1 4-31 31-17 9-8 12-16 16-6 16-21 19-4 2-8-4-16 16-12 8-12 15-4 12-20 14-28 30-34 40-9 16-17 11-12 17-8 2-4-5-6 15-10 11-4 3-8-4-4 3-12 15-2 12-6 8-40 29-19 19-31 20-10 12-20 11-20 22-40 26-26 13-32 28-29 16-28 8z"/><path fill="#777777" d="M94 959l-8 0-8-5-2-8 2-11 16-54 28-50 29-29 11-22 21-18 10-16 34-32 18-28 9-25 4-4 4-1 4 4 4-3 21-23 11-19 16-12 10-13 32-24 6-8 4-16 12-6 26-30 12-28 14-12 16-8 20-27 16-11 12-13 25-17 4-12 15-9 12-13 30-18 15-20 6-12 25-11 7-13 14-16 7-5 8 3 32-22 27-24 22-32 29-20 14-15 68-46 27-15 44-12 21-3 8 3 4 12-8 38-24 57-48 60-52 77-8-7-4 1-16 17-12 21-3 16-21 16-14 16-2 12-16 19-12 5-14 12-22 27-12 5-12 11-8 4-20 25-12 8-21 20-9 16-48 44-18 28-8 4-8 1-9 7-11 21-16 3-24 15-6 9 0 8-21 28-2 12-23 17-12 1-21 30-39 24-8 9-16 9-20 22-12 5-20 18-37 21-34 28-39 20zM540 386l5-4-3-4-7 4 1 4zM732 414l3-4-1-3-4 2-2 5 2 3zM666 503l-4 1-1-2 5-5zM462 702l-4 2-2-2 6-5zM406 742l7-8-3-2-7 2-6 8 1 4z"/><path fill="#717171" d="M94 958l-12-1-6-7 6-30 16-41 20-32 8-9 3-8 13-11 17-21 7-17 24-18 12-21 24-23 16-11 8-16 18-14 9-20 5-7 36-34 12-18 12-5 40-42 12-23 16-18 8-7 12-1 4-5 5-24 23-20 8-15 4-1 4 15 16-11 24-24 0-6-4-2 8-12 8-3 2 7 2 0 7-8 19-12 4-20 5-8 33-21 12-3-6-4 1-4 21-16 16-27 4-3 16-4 12-12 20-11 41-39 14-24 28-20 18-16 56-40 34-20 23-8 20-4 18-3 8 3 3 12-7 34-24 57-76 97-12 22-12 8-8-3-32 38-16 11-1 16-15 19-8 5-8-2-12 9-7 13-7 24-16 16-12 16-38 24-16 22-44 38-5 12-10 12-18 12-19 20-16 11-9 13-19 18-16 8-11 14-17 10-12 12-12 3-8 5-7 10-4 12-15 12-9 20-17 20-2 4 2 4-6 8-34 20-26 20-14 16-16 7-21 21-40 24-41 32-32 16zM451 498l7-7 4-10-4 0-5 5-5 8zM422 726l-4-4 8-6 2 2zM351 790l9-8-10 0-6 8z"/><path fill="#6b6b6b" d="M90 958l-8-1-5-7 5-27 12-31 24-37 14-13 9-16 33-43 20-19 12-20 20-20 28-20 8-11 20-15 13-16 12-28 42-40 45-51 16-13 12-4 16-17 8-2 8-5 38-40 6-14 24-27 36-29 24-17 21-29 29-20 3-4-1-8 7-12 29-19 20-17 32-38 29-22 5-8 4-12 8-8 14-8 14-4 10-16 15-12 73-48 21-8 20-4 15-2 8 3 3 11-7 31-28 61-12 12-16 24-16 16-24 32-32 24-32 43-20 10-24 23-34 52-5 20-25 27-7 1 1-12-2-4-12 8-5 8 2 8-20 20-9 14-19 18-13 8-16 17-12 4-10 7-10 16-20 16-9 16-17 16-4 12-6 6-8 5-16 2-8 6-8 1-4 3-4 13-8 9-16 8-8 7-15 16-6 12-25 20-10 17-30 27-2 4 2 8-11 12-43 30-30 30-58 38-26 22-32 16zM484 638l5-4-3-1-5 5z"/><path fill="#656565" d="M90 958l-11-4-1-12 12-38 20-33 30-33 22-33 25-23 19-28 24-24 48-40 28-36 8-2 8-8 8-1 7-5 5-19-4-1-12 19-3-3 1-8 6-7 8-2 6-11 14-13 10-15 18-13-5 21 5-1 11-15-1-8 5-8 17-8 11-12 13-9 10-15 60-60 10-18 20-6 13-24 31-24 36-38 36-24 9-10 4-12 28-28 23-32 42-28 8-12 2-9 12-6 22-17 15-20 62-44 21-12 40-10 12 3 3 11-11 40-20 39-16 19-16 26-28 29-44 39-24 33-4 3-8-4-4 4-24 31-13 9-23 36-16 18-2-2 0-12-2-3-4 2-13 17-7 16-10 16-30 20-8 19-8-4-16 18-6 11 1 12-11 13-8 7-8-6-7 14-29 26-26 34-30 14-32 28-16 20-12 9-12 17-68 62-20 25-16 13-9 20-7 9-16 10-16 16-20 8-10 17-20 16-27 16-26 24-30 16zM578 530l8-8 2-4-2-2-4 2zM558 542l15-8-11 4zM434 562l0-5-6 5 2 3z"/><path fill="#5f5f5f" d="M106 954l-20 3-8-7 4-22 8-21 24-35 31-34 21-30 28-26 8-14 4-1 4 2 21-19 20-24 26-24 21-28 4-3 8 2 16-16 32-23 16-20 16-5 8 1 7-4 33-38 4 0 4 5 16-24 12-11 10-4 0-4-2-1-8 4 0-7 12-5 20-24 12-6 8-7 12-1 8-6 15-19-7-7-12 8-3-5 2-4 13 0 12-18 19-14 11-20 11-12-1-3-16 6-4-3 20-11 12-19 8-5 2 3-4 8 1 4 5-1 20-23-2-8 4-4 18-14 8 2 4-2 14-18-12-8 10-8 24-28 40-28 3-8 8-8 5-3 8 0 8-5 8-24 36-28 11-16 33-28 23-16 21-8 24-5 8 0 4 3 2 10-14 44-16 27-16 17-20 33-48 43-20 13-8 11-16 11-20 23-28 13-14 25-26 27-14 9-10 18-4 0-4-10-68 75-32 24-8 15-12 10-2 8-6 1-12 8-12 2-7 5-6 12-13 12 2 8-3 8-33 20-1 24-23 27-20 18-14 23-28 20-54 55-30 25-28 40-14 12-20 10-20 25-36 26-30 27-18 12zM582 395l-4-1 8-8 3 4zM594 454l-4-1-1-3 21-20 13-16 3-8-4-2-12 7-31 39 3 4zM518 467l-6-1-1-4 3-5 8-5 7 2 0 4zM381 638l12-8-3-3-4 2-9 9zM381 698l2-4-1-3-6 7 2 2z"/><path fill="#595959" d="M654 403l-4 2-1-3 6-16 11-9 10-3-7-8 9-20 23-28 22-20 0-4-4-8 3-4 28-16 6-8 1-12 8-12 29-26 27-38 23-20 10-16 30-28 22-16 40-13 8 0 4 4 2 9-14 40-16 23-19 21-13 22-12 6-28 29-8 3-8-2-20 23-12 5-13 14 2 8-5 9-43 31-37 43-20 16-3-3 12-12 1-8 12-24-2-3-4 3-32 40 1 8-19 12zM787 282l6-4-5 0zM734 294l6-4-2-2-3 2zM618 446l-4 0-3-4 3-8 4-4 8 0 8-8 4-1 0 5-4 10zM570 444l-3-2 3-5 9-3zM602 470l-4 1 1-5 7-8 4 0 0 4zM554 506l-4 3-1-3 5-5 4 1zM442 621l-4 0-1-3 1-8-2-8 14-21 38-39 22-17 16-9 4 6 0 4-4 4-20 15-12 5-8 11-8 0-13 29-13 12zM422 611l-10-1 10-8 4 4zM102 954l-16 3-5-3-3-8 8-27 15-25 37-43 32-32 20-12 23-25 26-16 15-32 44-34 12-6 8 1 20-14 16-6 19-25 29-14 8 0 8-4 6 2 2 4-4 4-37 28-11 20-24 27-6 17-14 21-52 52-12 5-10 14-13 12-6 12-23 15-16 21-56 52-12 8zM298 738l21-12 6-8 0-4-3-2-29 22zM295 758l1-4-2-3-4 7z"/><path fill="#535353" d="M774 280l-8-3-12 4 0-7 19-16 0-12 25-28 24-40 34-32 25-32 23-20 14-8 28-8 8 0 4 3 1 9-9 28-20 30-16 14-9 12-15 13-16 19-20 5-8 5-20 17-12 7-20 24zM742 319l-4 2-1-3 5-4 8-1zM98 955l-8 2-8-2-4-9 12-32 16-22 28-30 40-37 44-32 12-5 20-24 12-8 1 6-10 20-2 20-17 27-12 10-7 15-24 32-59 56-15 8z"/></g></g>
<path class="bl" stroke-width="10.2" d="M1267.6,1260.8 1267.6,1255 1270.4,1251.6 1274,1248 1281,1245 1286,1234 1289,1224 1294,1218 1295,1204 1303,1203 1307,1193 1310,1188 1310.4,1174 1314,1164 1318,1156 1321,1152 1329,1150 1333,1145 1339,1142 1344,1138 1349,1136 1354,1132 1355,1123 1361,1119 1369,1117 1370.4,1106 1378,1100 1386,1097 1391,1094 1395,1089 1402,1086 1414,1084 1423,1080 1424,1075 1432,1073 1434,1066 1440,1065 1441.6,1054 1447,1050 1456,1048 1460,1045.6 1470,1044.4 1483.6,1044 h4.7"/>
</g>
<path class="tk" d="M1267.6 1281v-14.5M1267.6 1022.7v14.5M1246 1259.5h14.5M1504.8 1259.5h-14.5M1310.8 1281v-14.5M1310.8 1022.7v14.5M1246 1216.4h14.5M1504.8 1216.4h-14.5M1354 1281v-14.5M1354 1022.7v14.5M1246 1173.3h14.5M1504.8 1173.3h-14.5M1397.2 1281v-14.5M1397.2 1022.7v14.5M1246 1130.2h14.5M1504.8 1130.2h-14.5M1440.4 1281v-14.5M1440.4 1022.7v14.5M1246 1087.1h14.5M1504.8 1087.1h-14.5M1483.6 1281v-14.5M1483.6 1022.7v14.5M1246 1044.1h14.5M1504.8 1044.1h-14.5"/>
<text class="t i" x="1490.6" y="1215.2" font-size="28.8" text-anchor="end">AUC</text>
<text class="t i" x="1494" y="1248.7" font-size="28.8" text-anchor="end">0.639*</text>
<rect class="sp" x="1246" y="1022.7" width="258.8" height="258.3"/>
<text class="t" x="1236.3" y="1269.7" font-size="29" text-anchor="end">0.0</text>
<text class="h" transform="translate(1267.6 1292.4) rotate(-90)" x="0" y="11.2" font-size="31.4" text-anchor="end">0.0</text>
<text class="t" x="1236.3" y="1226.6" font-size="29" text-anchor="end">0.2</text>
<text class="h" transform="translate(1310.8 1292.4) rotate(-90)" x="0" y="11.2" font-size="31.4" text-anchor="end">0.2</text>
<text class="t" x="1236.3" y="1183.5" font-size="29" text-anchor="end">0.4</text>
<text class="h" transform="translate(1354 1292.4) rotate(-90)" x="0" y="11.2" font-size="31.4" text-anchor="end">0.4</text>
<text class="t" x="1236.3" y="1140.4" font-size="29" text-anchor="end">0.6</text>
<text class="h" transform="translate(1397.2 1292.4) rotate(-90)" x="0" y="11.2" font-size="31.4" text-anchor="end">0.6</text>
<text class="t" x="1236.3" y="1097.3" font-size="29" text-anchor="end">0.8</text>
<text class="h" transform="translate(1440.4 1292.4) rotate(-90)" x="0" y="11.2" font-size="31.4" text-anchor="end">0.8</text>
<text class="t" x="1237.2" y="1054.3" font-size="29" text-anchor="end">1.0</text>
<text class="h" transform="translate(1483.6 1292.4) rotate(-90)" x="0" y="11.2" font-size="31.4" text-anchor="end">1.0</text>
</g>
<text class="h b" transform="translate(42.8 643.9) rotate(-90)" font-size="50.7" text-anchor="middle">Decoded Probability</text>
<text class="t b" x="627.3" y="1373.5" font-size="43.3" text-anchor="middle">Time (min.)</text>
<text class="h b" transform="translate(1167.8 673.9) rotate(-90) scale(1 1.03)" font-size="35.65" text-anchor="middle">True Positive Rate</text>
<text class="h b" x="1363.8" y="1380.3" font-size="36" text-anchor="middle">False Positive Rate</text>
</svg></body></html>
